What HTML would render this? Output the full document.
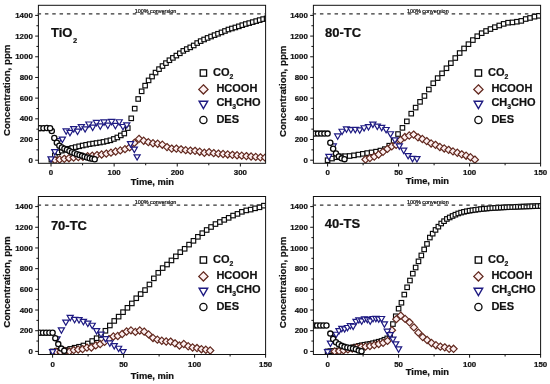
<!DOCTYPE html>
<html><head><meta charset="utf-8"><style>
html,body{margin:0;padding:0;background:#fff;}
svg{display:block;filter:blur(0.3px);}
text{font-family:"Liberation Sans", sans-serif;fill:#111;stroke:#111;stroke-width:0.22px;}
</style></head><body>
<svg width="550" height="384" viewBox="0 0 550 384">
<rect width="550" height="384" fill="#fff"/>
<clipPath id="cp0"><rect x="38.4" y="5.3" width="227.2" height="158"/></clipPath><g clip-path="url(#cp0)">
<rect x="49.15" y="157.45" width="4.5" height="4.5" fill="#fff" stroke="#0a0a0a" stroke-width="1.15"/>
<rect x="52.62" y="153.13" width="4.5" height="4.5" fill="#fff" stroke="#0a0a0a" stroke-width="1.15"/>
<rect x="56.09" y="150.11" width="4.5" height="4.5" fill="#fff" stroke="#0a0a0a" stroke-width="1.15"/>
<rect x="59.56" y="148.41" width="4.5" height="4.5" fill="#fff" stroke="#0a0a0a" stroke-width="1.15"/>
<rect x="63.04" y="147.37" width="4.5" height="4.5" fill="#fff" stroke="#0a0a0a" stroke-width="1.15"/>
<rect x="66.51" y="146.53" width="4.5" height="4.5" fill="#fff" stroke="#0a0a0a" stroke-width="1.15"/>
<rect x="69.98" y="145.7" width="4.5" height="4.5" fill="#fff" stroke="#0a0a0a" stroke-width="1.15"/>
<rect x="73.45" y="144.87" width="4.5" height="4.5" fill="#fff" stroke="#0a0a0a" stroke-width="1.15"/>
<rect x="76.92" y="144.04" width="4.5" height="4.5" fill="#fff" stroke="#0a0a0a" stroke-width="1.15"/>
<rect x="80.39" y="143.27" width="4.5" height="4.5" fill="#fff" stroke="#0a0a0a" stroke-width="1.15"/>
<rect x="83.86" y="142.56" width="4.5" height="4.5" fill="#fff" stroke="#0a0a0a" stroke-width="1.15"/>
<rect x="87.33" y="141.86" width="4.5" height="4.5" fill="#fff" stroke="#0a0a0a" stroke-width="1.15"/>
<rect x="90.8" y="141.33" width="4.5" height="4.5" fill="#fff" stroke="#0a0a0a" stroke-width="1.15"/>
<rect x="94.28" y="140.8" width="4.5" height="4.5" fill="#fff" stroke="#0a0a0a" stroke-width="1.15"/>
<rect x="97.75" y="140.26" width="4.5" height="4.5" fill="#fff" stroke="#0a0a0a" stroke-width="1.15"/>
<rect x="101.22" y="139.66" width="4.5" height="4.5" fill="#fff" stroke="#0a0a0a" stroke-width="1.15"/>
<rect x="104.69" y="138.86" width="4.5" height="4.5" fill="#fff" stroke="#0a0a0a" stroke-width="1.15"/>
<rect x="108.16" y="138.06" width="4.5" height="4.5" fill="#fff" stroke="#0a0a0a" stroke-width="1.15"/>
<rect x="111.63" y="136.7" width="4.5" height="4.5" fill="#fff" stroke="#0a0a0a" stroke-width="1.15"/>
<rect x="115.1" y="135.22" width="4.5" height="4.5" fill="#fff" stroke="#0a0a0a" stroke-width="1.15"/>
<rect x="118.57" y="133.16" width="4.5" height="4.5" fill="#fff" stroke="#0a0a0a" stroke-width="1.15"/>
<rect x="122.04" y="131.27" width="4.5" height="4.5" fill="#fff" stroke="#0a0a0a" stroke-width="1.15"/>
<rect x="125.52" y="125.85" width="4.5" height="4.5" fill="#fff" stroke="#0a0a0a" stroke-width="1.15"/>
<rect x="128.99" y="116.09" width="4.5" height="4.5" fill="#fff" stroke="#0a0a0a" stroke-width="1.15"/>
<rect x="132.46" y="106.37" width="4.5" height="4.5" fill="#fff" stroke="#0a0a0a" stroke-width="1.15"/>
<rect x="135.93" y="96.73" width="4.5" height="4.5" fill="#fff" stroke="#0a0a0a" stroke-width="1.15"/>
<rect x="139.4" y="89.07" width="4.5" height="4.5" fill="#fff" stroke="#0a0a0a" stroke-width="1.15"/>
<rect x="142.87" y="83.38" width="4.5" height="4.5" fill="#fff" stroke="#0a0a0a" stroke-width="1.15"/>
<rect x="146.34" y="78.13" width="4.5" height="4.5" fill="#fff" stroke="#0a0a0a" stroke-width="1.15"/>
<rect x="149.81" y="74.29" width="4.5" height="4.5" fill="#fff" stroke="#0a0a0a" stroke-width="1.15"/>
<rect x="153.28" y="70.33" width="4.5" height="4.5" fill="#fff" stroke="#0a0a0a" stroke-width="1.15"/>
<rect x="156.76" y="66.89" width="4.5" height="4.5" fill="#fff" stroke="#0a0a0a" stroke-width="1.15"/>
<rect x="160.23" y="63.78" width="4.5" height="4.5" fill="#fff" stroke="#0a0a0a" stroke-width="1.15"/>
<rect x="163.7" y="60.87" width="4.5" height="4.5" fill="#fff" stroke="#0a0a0a" stroke-width="1.15"/>
<rect x="167.17" y="57.99" width="4.5" height="4.5" fill="#fff" stroke="#0a0a0a" stroke-width="1.15"/>
<rect x="170.64" y="55.63" width="4.5" height="4.5" fill="#fff" stroke="#0a0a0a" stroke-width="1.15"/>
<rect x="174.11" y="53.34" width="4.5" height="4.5" fill="#fff" stroke="#0a0a0a" stroke-width="1.15"/>
<rect x="177.58" y="51.04" width="4.5" height="4.5" fill="#fff" stroke="#0a0a0a" stroke-width="1.15"/>
<rect x="181.05" y="48.62" width="4.5" height="4.5" fill="#fff" stroke="#0a0a0a" stroke-width="1.15"/>
<rect x="184.52" y="46.84" width="4.5" height="4.5" fill="#fff" stroke="#0a0a0a" stroke-width="1.15"/>
<rect x="188" y="45.12" width="4.5" height="4.5" fill="#fff" stroke="#0a0a0a" stroke-width="1.15"/>
<rect x="191.47" y="43.22" width="4.5" height="4.5" fill="#fff" stroke="#0a0a0a" stroke-width="1.15"/>
<rect x="194.94" y="40.79" width="4.5" height="4.5" fill="#fff" stroke="#0a0a0a" stroke-width="1.15"/>
<rect x="198.41" y="38.87" width="4.5" height="4.5" fill="#fff" stroke="#0a0a0a" stroke-width="1.15"/>
<rect x="201.88" y="37.22" width="4.5" height="4.5" fill="#fff" stroke="#0a0a0a" stroke-width="1.15"/>
<rect x="205.35" y="35.67" width="4.5" height="4.5" fill="#fff" stroke="#0a0a0a" stroke-width="1.15"/>
<rect x="208.82" y="34.27" width="4.5" height="4.5" fill="#fff" stroke="#0a0a0a" stroke-width="1.15"/>
<rect x="212.29" y="32.88" width="4.5" height="4.5" fill="#fff" stroke="#0a0a0a" stroke-width="1.15"/>
<rect x="215.76" y="31.51" width="4.5" height="4.5" fill="#fff" stroke="#0a0a0a" stroke-width="1.15"/>
<rect x="219.24" y="30.14" width="4.5" height="4.5" fill="#fff" stroke="#0a0a0a" stroke-width="1.15"/>
<rect x="222.71" y="28.73" width="4.5" height="4.5" fill="#fff" stroke="#0a0a0a" stroke-width="1.15"/>
<rect x="226.18" y="27.27" width="4.5" height="4.5" fill="#fff" stroke="#0a0a0a" stroke-width="1.15"/>
<rect x="229.65" y="26.24" width="4.5" height="4.5" fill="#fff" stroke="#0a0a0a" stroke-width="1.15"/>
<rect x="233.12" y="25.21" width="4.5" height="4.5" fill="#fff" stroke="#0a0a0a" stroke-width="1.15"/>
<rect x="236.59" y="24.09" width="4.5" height="4.5" fill="#fff" stroke="#0a0a0a" stroke-width="1.15"/>
<rect x="240.06" y="22.92" width="4.5" height="4.5" fill="#fff" stroke="#0a0a0a" stroke-width="1.15"/>
<rect x="243.53" y="21.79" width="4.5" height="4.5" fill="#fff" stroke="#0a0a0a" stroke-width="1.15"/>
<rect x="247" y="20.85" width="4.5" height="4.5" fill="#fff" stroke="#0a0a0a" stroke-width="1.15"/>
<rect x="250.48" y="19.86" width="4.5" height="4.5" fill="#fff" stroke="#0a0a0a" stroke-width="1.15"/>
<rect x="253.95" y="18.85" width="4.5" height="4.5" fill="#fff" stroke="#0a0a0a" stroke-width="1.15"/>
<rect x="257.42" y="17.85" width="4.5" height="4.5" fill="#fff" stroke="#0a0a0a" stroke-width="1.15"/>
<rect x="260.89" y="16.86" width="4.5" height="4.5" fill="#fff" stroke="#0a0a0a" stroke-width="1.15"/>
<rect x="264.36" y="16.1" width="4.5" height="4.5" fill="#fff" stroke="#0a0a0a" stroke-width="1.15"/>
<path d="M54.94 156.52L58.54 160.12L54.94 163.72L51.34 160.12Z" fill="#fdf0f1" stroke="#62291f" stroke-width="1.2"/>
<path d="M59.61 155.89L63.21 159.49L59.61 163.09L56.01 159.49Z" fill="#fdf0f1" stroke="#62291f" stroke-width="1.2"/>
<path d="M64.28 155.23L67.88 158.83L64.28 162.43L60.68 158.83Z" fill="#fdf0f1" stroke="#62291f" stroke-width="1.2"/>
<path d="M68.95 154.58L72.55 158.18L68.95 161.78L65.35 158.18Z" fill="#fdf0f1" stroke="#62291f" stroke-width="1.2"/>
<path d="M73.62 154.02L77.22 157.62L73.62 161.22L70.02 157.62Z" fill="#fdf0f1" stroke="#62291f" stroke-width="1.2"/>
<path d="M78.29 153.52L81.89 157.12L78.29 160.72L74.69 157.12Z" fill="#fdf0f1" stroke="#62291f" stroke-width="1.2"/>
<path d="M82.96 153.1L86.56 156.7L82.96 160.3L79.36 156.7Z" fill="#fdf0f1" stroke="#62291f" stroke-width="1.2"/>
<path d="M87.63 152.68L91.23 156.28L87.63 159.88L84.03 156.28Z" fill="#fdf0f1" stroke="#62291f" stroke-width="1.2"/>
<path d="M92.3 152.12L95.9 155.72L92.3 159.32L88.7 155.72Z" fill="#fdf0f1" stroke="#62291f" stroke-width="1.2"/>
<path d="M96.97 151.51L100.57 155.11L96.97 158.71L93.37 155.11Z" fill="#fdf0f1" stroke="#62291f" stroke-width="1.2"/>
<path d="M101.64 150.89L105.24 154.49L101.64 158.09L98.04 154.49Z" fill="#fdf0f1" stroke="#62291f" stroke-width="1.2"/>
<path d="M106.31 150.02L109.91 153.62L106.31 157.22L102.71 153.62Z" fill="#fdf0f1" stroke="#62291f" stroke-width="1.2"/>
<path d="M110.98 149.07L114.58 152.67L110.98 156.27L107.38 152.67Z" fill="#fdf0f1" stroke="#62291f" stroke-width="1.2"/>
<path d="M115.65 147.94L119.25 151.54L115.65 155.14L112.05 151.54Z" fill="#fdf0f1" stroke="#62291f" stroke-width="1.2"/>
<path d="M120.32 146.8L123.92 150.4L120.32 154L116.72 150.4Z" fill="#fdf0f1" stroke="#62291f" stroke-width="1.2"/>
<path d="M124.99 145.56L128.59 149.16L124.99 152.76L121.39 149.16Z" fill="#fdf0f1" stroke="#62291f" stroke-width="1.2"/>
<path d="M129.66 143.77L133.26 147.37L129.66 150.97L126.06 147.37Z" fill="#fdf0f1" stroke="#62291f" stroke-width="1.2"/>
<path d="M134.33 139.28L137.93 142.88L134.33 146.48L130.73 142.88Z" fill="#fdf0f1" stroke="#62291f" stroke-width="1.2"/>
<path d="M139 135.29L142.6 138.89L139 142.49L135.4 138.89Z" fill="#fdf0f1" stroke="#62291f" stroke-width="1.2"/>
<path d="M143.67 137.13L147.27 140.73L143.67 144.33L140.07 140.73Z" fill="#fdf0f1" stroke="#62291f" stroke-width="1.2"/>
<path d="M148.34 138.55L151.94 142.15L148.34 145.75L144.74 142.15Z" fill="#fdf0f1" stroke="#62291f" stroke-width="1.2"/>
<path d="M153.01 139.68L156.61 143.28L153.01 146.88L149.41 143.28Z" fill="#fdf0f1" stroke="#62291f" stroke-width="1.2"/>
<path d="M157.68 140.19L161.28 143.79L157.68 147.39L154.08 143.79Z" fill="#fdf0f1" stroke="#62291f" stroke-width="1.2"/>
<path d="M162.35 141.09L165.95 144.69L162.35 148.29L158.75 144.69Z" fill="#fdf0f1" stroke="#62291f" stroke-width="1.2"/>
<path d="M167.02 143.52L170.62 147.12L167.02 150.72L163.42 147.12Z" fill="#fdf0f1" stroke="#62291f" stroke-width="1.2"/>
<path d="M171.69 145.01L175.29 148.61L171.69 152.21L168.09 148.61Z" fill="#fdf0f1" stroke="#62291f" stroke-width="1.2"/>
<path d="M176.36 145.04L179.96 148.64L176.36 152.24L172.76 148.64Z" fill="#fdf0f1" stroke="#62291f" stroke-width="1.2"/>
<path d="M181.03 145.74L184.63 149.34L181.03 152.94L177.43 149.34Z" fill="#fdf0f1" stroke="#62291f" stroke-width="1.2"/>
<path d="M185.7 146.55L189.3 150.15L185.7 153.75L182.1 150.15Z" fill="#fdf0f1" stroke="#62291f" stroke-width="1.2"/>
<path d="M190.37 147.04L193.97 150.64L190.37 154.24L186.77 150.64Z" fill="#fdf0f1" stroke="#62291f" stroke-width="1.2"/>
<path d="M195.04 147.26L198.64 150.86L195.04 154.46L191.44 150.86Z" fill="#fdf0f1" stroke="#62291f" stroke-width="1.2"/>
<path d="M199.71 148.08L203.31 151.68L199.71 155.28L196.11 151.68Z" fill="#fdf0f1" stroke="#62291f" stroke-width="1.2"/>
<path d="M204.38 149.12L207.98 152.72L204.38 156.32L200.78 152.72Z" fill="#fdf0f1" stroke="#62291f" stroke-width="1.2"/>
<path d="M209.05 148.54L212.65 152.14L209.05 155.74L205.45 152.14Z" fill="#fdf0f1" stroke="#62291f" stroke-width="1.2"/>
<path d="M213.72 149.53L217.32 153.13L213.72 156.73L210.12 153.13Z" fill="#fdf0f1" stroke="#62291f" stroke-width="1.2"/>
<path d="M218.39 150.04L221.99 153.64L218.39 157.24L214.79 153.64Z" fill="#fdf0f1" stroke="#62291f" stroke-width="1.2"/>
<path d="M223.06 150.43L226.66 154.03L223.06 157.63L219.46 154.03Z" fill="#fdf0f1" stroke="#62291f" stroke-width="1.2"/>
<path d="M227.73 150.84L231.33 154.44L227.73 158.04L224.13 154.44Z" fill="#fdf0f1" stroke="#62291f" stroke-width="1.2"/>
<path d="M232.4 151.25L236 154.85L232.4 158.45L228.8 154.85Z" fill="#fdf0f1" stroke="#62291f" stroke-width="1.2"/>
<path d="M237.07 151.66L240.67 155.26L237.07 158.86L233.47 155.26Z" fill="#fdf0f1" stroke="#62291f" stroke-width="1.2"/>
<path d="M241.74 152.07L245.34 155.67L241.74 159.27L238.14 155.67Z" fill="#fdf0f1" stroke="#62291f" stroke-width="1.2"/>
<path d="M246.41 152.48L250.01 156.08L246.41 159.68L242.81 156.08Z" fill="#fdf0f1" stroke="#62291f" stroke-width="1.2"/>
<path d="M251.08 152.9L254.68 156.5L251.08 160.1L247.48 156.5Z" fill="#fdf0f1" stroke="#62291f" stroke-width="1.2"/>
<path d="M255.75 153.32L259.35 156.92L255.75 160.52L252.15 156.92Z" fill="#fdf0f1" stroke="#62291f" stroke-width="1.2"/>
<path d="M260.42 153.73L264.02 157.33L260.42 160.93L256.82 157.33Z" fill="#fdf0f1" stroke="#62291f" stroke-width="1.2"/>
<path d="M265.1 154.03L268.7 157.63L265.1 161.23L261.5 157.63Z" fill="#fdf0f1" stroke="#62291f" stroke-width="1.2"/>
<path d="M47.95 156.84L54.1 156.84L51.02 162.17Z" fill="#fff" stroke="#1e1a82" stroke-width="1.2"/>
<path d="M51.73 149.61L57.88 149.61L54.81 154.94Z" fill="#fff" stroke="#1e1a82" stroke-width="1.2"/>
<path d="M55.52 138.59L61.67 138.59L58.6 143.91Z" fill="#fff" stroke="#1e1a82" stroke-width="1.2"/>
<path d="M59.31 137.17L65.46 137.17L62.38 142.5Z" fill="#fff" stroke="#1e1a82" stroke-width="1.2"/>
<path d="M63.09 128.95L69.24 128.95L66.17 134.28Z" fill="#fff" stroke="#1e1a82" stroke-width="1.2"/>
<path d="M66.88 130.37L73.03 130.37L69.96 135.7Z" fill="#fff" stroke="#1e1a82" stroke-width="1.2"/>
<path d="M70.67 126.64L76.82 126.64L73.74 131.96Z" fill="#fff" stroke="#1e1a82" stroke-width="1.2"/>
<path d="M74.45 129.21L80.6 129.21L77.53 134.54Z" fill="#fff" stroke="#1e1a82" stroke-width="1.2"/>
<path d="M78.24 124.55L84.39 124.55L81.32 129.88Z" fill="#fff" stroke="#1e1a82" stroke-width="1.2"/>
<path d="M82.03 126.8L88.18 126.8L85.1 132.13Z" fill="#fff" stroke="#1e1a82" stroke-width="1.2"/>
<path d="M85.81 122.02L91.96 122.02L88.89 127.35Z" fill="#fff" stroke="#1e1a82" stroke-width="1.2"/>
<path d="M89.6 125.16L95.75 125.16L92.68 130.48Z" fill="#fff" stroke="#1e1a82" stroke-width="1.2"/>
<path d="M93.39 120.47L99.54 120.47L96.46 125.8Z" fill="#fff" stroke="#1e1a82" stroke-width="1.2"/>
<path d="M97.17 123.96L103.32 123.96L100.25 129.29Z" fill="#fff" stroke="#1e1a82" stroke-width="1.2"/>
<path d="M100.96 119.95L107.11 119.95L104.04 125.27Z" fill="#fff" stroke="#1e1a82" stroke-width="1.2"/>
<path d="M104.75 123.21L110.9 123.21L107.82 128.53Z" fill="#fff" stroke="#1e1a82" stroke-width="1.2"/>
<path d="M108.53 119.45L114.68 119.45L111.61 124.78Z" fill="#fff" stroke="#1e1a82" stroke-width="1.2"/>
<path d="M112.32 123.45L118.47 123.45L115.4 128.77Z" fill="#fff" stroke="#1e1a82" stroke-width="1.2"/>
<path d="M116.11 119.76L122.26 119.76L119.18 125.09Z" fill="#fff" stroke="#1e1a82" stroke-width="1.2"/>
<path d="M119.89 124.52L126.04 124.52L122.97 129.85Z" fill="#fff" stroke="#1e1a82" stroke-width="1.2"/>
<path d="M123.68 122.83L129.83 122.83L126.76 128.16Z" fill="#fff" stroke="#1e1a82" stroke-width="1.2"/>
<path d="M127.47 141.64L133.62 141.64L130.54 146.97Z" fill="#fff" stroke="#1e1a82" stroke-width="1.2"/>
<path d="M131.25 147.16L137.4 147.16L134.33 152.49Z" fill="#fff" stroke="#1e1a82" stroke-width="1.2"/>
<path d="M134.03 154.8L140.18 154.8L137.11 160.13Z" fill="#fff" stroke="#1e1a82" stroke-width="1.2"/>
<circle cx="51.78" cy="131.05" r="2.6" fill="#fff" stroke="#0a0a0a" stroke-width="1.3"/>
<circle cx="54.3" cy="138" r="2.6" fill="#fff" stroke="#0a0a0a" stroke-width="1.3"/>
<circle cx="56.83" cy="142.72" r="2.6" fill="#fff" stroke="#0a0a0a" stroke-width="1.3"/>
<circle cx="59.35" cy="145.76" r="2.6" fill="#fff" stroke="#0a0a0a" stroke-width="1.3"/>
<circle cx="61.88" cy="147.56" r="2.6" fill="#fff" stroke="#0a0a0a" stroke-width="1.3"/>
<circle cx="64.4" cy="148.67" r="2.6" fill="#fff" stroke="#0a0a0a" stroke-width="1.3"/>
<circle cx="66.93" cy="149.76" r="2.6" fill="#fff" stroke="#0a0a0a" stroke-width="1.3"/>
<circle cx="69.45" cy="151.05" r="2.6" fill="#fff" stroke="#0a0a0a" stroke-width="1.3"/>
<circle cx="71.98" cy="152.23" r="2.6" fill="#fff" stroke="#0a0a0a" stroke-width="1.3"/>
<circle cx="74.5" cy="153.28" r="2.6" fill="#fff" stroke="#0a0a0a" stroke-width="1.3"/>
<circle cx="77.02" cy="154.21" r="2.6" fill="#fff" stroke="#0a0a0a" stroke-width="1.3"/>
<circle cx="79.55" cy="155.03" r="2.6" fill="#fff" stroke="#0a0a0a" stroke-width="1.3"/>
<circle cx="82.07" cy="155.86" r="2.6" fill="#fff" stroke="#0a0a0a" stroke-width="1.3"/>
<circle cx="84.6" cy="156.7" r="2.6" fill="#fff" stroke="#0a0a0a" stroke-width="1.3"/>
<circle cx="87.12" cy="157.56" r="2.6" fill="#fff" stroke="#0a0a0a" stroke-width="1.3"/>
<circle cx="89.65" cy="158.23" r="2.6" fill="#fff" stroke="#0a0a0a" stroke-width="1.3"/>
<circle cx="92.17" cy="158.76" r="2.6" fill="#fff" stroke="#0a0a0a" stroke-width="1.3"/>
<circle cx="94.7" cy="159.27" r="2.6" fill="#fff" stroke="#0a0a0a" stroke-width="1.3"/>
<circle cx="39.98" cy="128.14" r="2.6" fill="#fff" stroke="#0a0a0a" stroke-width="1.3"/>
<circle cx="43.45" cy="128.14" r="2.6" fill="#fff" stroke="#0a0a0a" stroke-width="1.3"/>
<circle cx="46.92" cy="127.93" r="2.6" fill="#fff" stroke="#0a0a0a" stroke-width="1.3"/>
<circle cx="50.08" cy="128.14" r="2.6" fill="#fff" stroke="#0a0a0a" stroke-width="1.3"/>
</g>
<rect x="38.4" y="5.3" width="227.2" height="158" fill="none" stroke="#111" stroke-width="1"/>
<line x1="37.6" y1="13.9" x2="265.6" y2="13.9" stroke="#333" stroke-width="1.1" stroke-dasharray="3.5 3.82"/>
<text x="155.5" y="12.6" font-size="5.45" text-anchor="middle" fill="#222" stroke="none">100% conversion</text>
<line x1="35.2" y1="160.2" x2="38.4" y2="160.2" stroke="#111" stroke-width="1"/>
<text x="32.8" y="162.8" font-size="7.9" font-weight="bold" text-anchor="end">0</text>
<line x1="35.2" y1="139.51" x2="38.4" y2="139.51" stroke="#111" stroke-width="1"/>
<text x="32.8" y="142.11" font-size="7.9" font-weight="bold" text-anchor="end">200</text>
<line x1="35.2" y1="118.83" x2="38.4" y2="118.83" stroke="#111" stroke-width="1"/>
<text x="32.8" y="121.43" font-size="7.9" font-weight="bold" text-anchor="end">400</text>
<line x1="35.2" y1="98.14" x2="38.4" y2="98.14" stroke="#111" stroke-width="1"/>
<text x="32.8" y="100.74" font-size="7.9" font-weight="bold" text-anchor="end">600</text>
<line x1="35.2" y1="77.46" x2="38.4" y2="77.46" stroke="#111" stroke-width="1"/>
<text x="32.8" y="80.06" font-size="7.9" font-weight="bold" text-anchor="end">800</text>
<line x1="35.2" y1="56.77" x2="38.4" y2="56.77" stroke="#111" stroke-width="1"/>
<text x="32.8" y="59.37" font-size="7.9" font-weight="bold" text-anchor="end">1000</text>
<line x1="35.2" y1="36.08" x2="38.4" y2="36.08" stroke="#111" stroke-width="1"/>
<text x="32.8" y="38.68" font-size="7.9" font-weight="bold" text-anchor="end">1200</text>
<line x1="35.2" y1="15.4" x2="38.4" y2="15.4" stroke="#111" stroke-width="1"/>
<text x="32.8" y="18" font-size="7.9" font-weight="bold" text-anchor="end">1400</text>
<line x1="36.4" y1="149.86" x2="38.4" y2="149.86" stroke="#111" stroke-width="1"/>
<line x1="36.4" y1="129.17" x2="38.4" y2="129.17" stroke="#111" stroke-width="1"/>
<line x1="36.4" y1="108.48" x2="38.4" y2="108.48" stroke="#111" stroke-width="1"/>
<line x1="36.4" y1="87.8" x2="38.4" y2="87.8" stroke="#111" stroke-width="1"/>
<line x1="36.4" y1="67.11" x2="38.4" y2="67.11" stroke="#111" stroke-width="1"/>
<line x1="36.4" y1="46.43" x2="38.4" y2="46.43" stroke="#111" stroke-width="1"/>
<line x1="36.4" y1="25.74" x2="38.4" y2="25.74" stroke="#111" stroke-width="1"/>
<line x1="51.02" y1="163.3" x2="51.02" y2="166.5" stroke="#111" stroke-width="1"/>
<text x="51.02" y="175.3" font-size="7.9" font-weight="bold" text-anchor="middle">0</text>
<line x1="114.13" y1="163.3" x2="114.13" y2="166.5" stroke="#111" stroke-width="1"/>
<text x="114.13" y="175.3" font-size="7.9" font-weight="bold" text-anchor="middle">100</text>
<line x1="177.24" y1="163.3" x2="177.24" y2="166.5" stroke="#111" stroke-width="1"/>
<text x="177.24" y="175.3" font-size="7.9" font-weight="bold" text-anchor="middle">200</text>
<line x1="240.36" y1="163.3" x2="240.36" y2="166.5" stroke="#111" stroke-width="1"/>
<text x="240.36" y="175.3" font-size="7.9" font-weight="bold" text-anchor="middle">300</text>
<line x1="82.58" y1="163.3" x2="82.58" y2="165.3" stroke="#111" stroke-width="1"/>
<line x1="145.69" y1="163.3" x2="145.69" y2="165.3" stroke="#111" stroke-width="1"/>
<line x1="208.8" y1="163.3" x2="208.8" y2="165.3" stroke="#111" stroke-width="1"/>
<text x="152.4" y="184.7" font-size="9.3" font-weight="bold" text-anchor="middle">Time, min</text>
<text transform="translate(9.9,90.3) rotate(-90)" font-size="9.7" font-weight="bold" text-anchor="middle">Concentration, ppm</text>
<text x="51" y="36.6" font-size="13" font-weight="bold">TiO<tspan font-size="7.5" dx="0.5" dy="6">2</tspan></text>
<rect x="200.2" y="69.8" width="6.4" height="6.4" fill="#fff" stroke="#0a0a0a" stroke-width="1.3"/>
<text x="213" y="76" font-size="11" font-weight="bold">CO<tspan font-size="6.8" dy="3.0">2</tspan></text>
<path d="M203.4 84.8L208 89.4L203.4 94L198.8 89.4Z" fill="#fdf0f1" stroke="#62291f" stroke-width="1.3"/>
<text x="216.4" y="92" font-size="11" font-weight="bold">HCOOH</text>
<path d="M199.07 101.2L207.73 101.2L203.4 108.7Z" fill="#fff" stroke="#1e1a82" stroke-width="1.35"/>
<text x="216.4" y="106.1" font-size="11" font-weight="bold">CH<tspan font-size="6.8" dy="3.0">3</tspan><tspan dy="-3.0">CHO</tspan></text>
<circle cx="203.4" cy="120" r="3.6" fill="#fff" stroke="#0a0a0a" stroke-width="1.3"/>
<text x="216.4" y="122.8" font-size="11" font-weight="bold">DES</text>
<clipPath id="cp1"><rect x="313.4" y="5.3" width="227.2" height="158"/></clipPath><g clip-path="url(#cp1)">
<rect x="325.35" y="157.95" width="4.5" height="4.5" fill="#fff" stroke="#0a0a0a" stroke-width="1.15"/>
<rect x="329.75" y="156.3" width="4.5" height="4.5" fill="#fff" stroke="#0a0a0a" stroke-width="1.15"/>
<rect x="334.15" y="154.97" width="4.5" height="4.5" fill="#fff" stroke="#0a0a0a" stroke-width="1.15"/>
<rect x="338.56" y="154.07" width="4.5" height="4.5" fill="#fff" stroke="#0a0a0a" stroke-width="1.15"/>
<rect x="342.96" y="153.94" width="4.5" height="4.5" fill="#fff" stroke="#0a0a0a" stroke-width="1.15"/>
<rect x="347.36" y="153.74" width="4.5" height="4.5" fill="#fff" stroke="#0a0a0a" stroke-width="1.15"/>
<rect x="351.76" y="153.09" width="4.5" height="4.5" fill="#fff" stroke="#0a0a0a" stroke-width="1.15"/>
<rect x="356.16" y="152.33" width="4.5" height="4.5" fill="#fff" stroke="#0a0a0a" stroke-width="1.15"/>
<rect x="360.57" y="151.59" width="4.5" height="4.5" fill="#fff" stroke="#0a0a0a" stroke-width="1.15"/>
<rect x="364.97" y="150.84" width="4.5" height="4.5" fill="#fff" stroke="#0a0a0a" stroke-width="1.15"/>
<rect x="369.37" y="150.17" width="4.5" height="4.5" fill="#fff" stroke="#0a0a0a" stroke-width="1.15"/>
<rect x="373.77" y="149.39" width="4.5" height="4.5" fill="#fff" stroke="#0a0a0a" stroke-width="1.15"/>
<rect x="378.17" y="148.32" width="4.5" height="4.5" fill="#fff" stroke="#0a0a0a" stroke-width="1.15"/>
<rect x="382.58" y="146.88" width="4.5" height="4.5" fill="#fff" stroke="#0a0a0a" stroke-width="1.15"/>
<rect x="386.98" y="143.44" width="4.5" height="4.5" fill="#fff" stroke="#0a0a0a" stroke-width="1.15"/>
<rect x="391.38" y="138.39" width="4.5" height="4.5" fill="#fff" stroke="#0a0a0a" stroke-width="1.15"/>
<rect x="395.78" y="131.79" width="4.5" height="4.5" fill="#fff" stroke="#0a0a0a" stroke-width="1.15"/>
<rect x="400.18" y="125.6" width="4.5" height="4.5" fill="#fff" stroke="#0a0a0a" stroke-width="1.15"/>
<rect x="404.59" y="119.11" width="4.5" height="4.5" fill="#fff" stroke="#0a0a0a" stroke-width="1.15"/>
<rect x="408.99" y="111.41" width="4.5" height="4.5" fill="#fff" stroke="#0a0a0a" stroke-width="1.15"/>
<rect x="413.39" y="105.35" width="4.5" height="4.5" fill="#fff" stroke="#0a0a0a" stroke-width="1.15"/>
<rect x="417.79" y="99.59" width="4.5" height="4.5" fill="#fff" stroke="#0a0a0a" stroke-width="1.15"/>
<rect x="422.19" y="93.72" width="4.5" height="4.5" fill="#fff" stroke="#0a0a0a" stroke-width="1.15"/>
<rect x="426.6" y="87.25" width="4.5" height="4.5" fill="#fff" stroke="#0a0a0a" stroke-width="1.15"/>
<rect x="431" y="81" width="4.5" height="4.5" fill="#fff" stroke="#0a0a0a" stroke-width="1.15"/>
<rect x="435.4" y="75.87" width="4.5" height="4.5" fill="#fff" stroke="#0a0a0a" stroke-width="1.15"/>
<rect x="439.8" y="71.08" width="4.5" height="4.5" fill="#fff" stroke="#0a0a0a" stroke-width="1.15"/>
<rect x="444.2" y="66.01" width="4.5" height="4.5" fill="#fff" stroke="#0a0a0a" stroke-width="1.15"/>
<rect x="448.61" y="60.91" width="4.5" height="4.5" fill="#fff" stroke="#0a0a0a" stroke-width="1.15"/>
<rect x="453.01" y="55.78" width="4.5" height="4.5" fill="#fff" stroke="#0a0a0a" stroke-width="1.15"/>
<rect x="457.41" y="50.79" width="4.5" height="4.5" fill="#fff" stroke="#0a0a0a" stroke-width="1.15"/>
<rect x="461.81" y="46.21" width="4.5" height="4.5" fill="#fff" stroke="#0a0a0a" stroke-width="1.15"/>
<rect x="466.21" y="41.94" width="4.5" height="4.5" fill="#fff" stroke="#0a0a0a" stroke-width="1.15"/>
<rect x="470.62" y="37.83" width="4.5" height="4.5" fill="#fff" stroke="#0a0a0a" stroke-width="1.15"/>
<rect x="475.02" y="33.98" width="4.5" height="4.5" fill="#fff" stroke="#0a0a0a" stroke-width="1.15"/>
<rect x="479.42" y="30.94" width="4.5" height="4.5" fill="#fff" stroke="#0a0a0a" stroke-width="1.15"/>
<rect x="483.82" y="28.75" width="4.5" height="4.5" fill="#fff" stroke="#0a0a0a" stroke-width="1.15"/>
<rect x="488.22" y="26.79" width="4.5" height="4.5" fill="#fff" stroke="#0a0a0a" stroke-width="1.15"/>
<rect x="492.63" y="24.94" width="4.5" height="4.5" fill="#fff" stroke="#0a0a0a" stroke-width="1.15"/>
<rect x="497.03" y="23.24" width="4.5" height="4.5" fill="#fff" stroke="#0a0a0a" stroke-width="1.15"/>
<rect x="501.43" y="21.63" width="4.5" height="4.5" fill="#fff" stroke="#0a0a0a" stroke-width="1.15"/>
<rect x="505.83" y="20.45" width="4.5" height="4.5" fill="#fff" stroke="#0a0a0a" stroke-width="1.15"/>
<rect x="510.23" y="20.15" width="4.5" height="4.5" fill="#fff" stroke="#0a0a0a" stroke-width="1.15"/>
<rect x="514.64" y="19.47" width="4.5" height="4.5" fill="#fff" stroke="#0a0a0a" stroke-width="1.15"/>
<rect x="519.04" y="18.64" width="4.5" height="4.5" fill="#fff" stroke="#0a0a0a" stroke-width="1.15"/>
<rect x="523.44" y="16.76" width="4.5" height="4.5" fill="#fff" stroke="#0a0a0a" stroke-width="1.15"/>
<rect x="527.84" y="15.7" width="4.5" height="4.5" fill="#fff" stroke="#0a0a0a" stroke-width="1.15"/>
<rect x="532.24" y="14.43" width="4.5" height="4.5" fill="#fff" stroke="#0a0a0a" stroke-width="1.15"/>
<rect x="536.65" y="13.57" width="4.5" height="4.5" fill="#fff" stroke="#0a0a0a" stroke-width="1.15"/>
<path d="M365.51 155.85L369.11 159.45L365.51 163.05L361.91 159.45Z" fill="#fdf0f1" stroke="#62291f" stroke-width="1.2"/>
<path d="M369.89 154.46L373.49 158.06L369.89 161.66L366.29 158.06Z" fill="#fdf0f1" stroke="#62291f" stroke-width="1.2"/>
<path d="M374.26 152.97L377.86 156.57L374.26 160.17L370.66 156.57Z" fill="#fdf0f1" stroke="#62291f" stroke-width="1.2"/>
<path d="M378.63 150.9L382.23 154.5L378.63 158.1L375.03 154.5Z" fill="#fdf0f1" stroke="#62291f" stroke-width="1.2"/>
<path d="M383.01 148.25L386.61 151.85L383.01 155.45L379.41 151.85Z" fill="#fdf0f1" stroke="#62291f" stroke-width="1.2"/>
<path d="M387.38 145.29L390.98 148.89L387.38 152.49L383.78 148.89Z" fill="#fdf0f1" stroke="#62291f" stroke-width="1.2"/>
<path d="M391.76 142.61L395.36 146.21L391.76 149.81L388.16 146.21Z" fill="#fdf0f1" stroke="#62291f" stroke-width="1.2"/>
<path d="M396.13 141.3L399.73 144.9L396.13 148.5L392.53 144.9Z" fill="#fdf0f1" stroke="#62291f" stroke-width="1.2"/>
<path d="M400.5 136.44L404.1 140.04L400.5 143.64L396.9 140.04Z" fill="#fdf0f1" stroke="#62291f" stroke-width="1.2"/>
<path d="M404.88 133.46L408.48 137.06L404.88 140.66L401.28 137.06Z" fill="#fdf0f1" stroke="#62291f" stroke-width="1.2"/>
<path d="M409.25 131.95L412.85 135.55L409.25 139.15L405.65 135.55Z" fill="#fdf0f1" stroke="#62291f" stroke-width="1.2"/>
<path d="M413.62 131L417.22 134.6L413.62 138.2L410.02 134.6Z" fill="#fdf0f1" stroke="#62291f" stroke-width="1.2"/>
<path d="M418 133.76L421.6 137.36L418 140.96L414.4 137.36Z" fill="#fdf0f1" stroke="#62291f" stroke-width="1.2"/>
<path d="M422.37 135.41L425.97 139.01L422.37 142.61L418.77 139.01Z" fill="#fdf0f1" stroke="#62291f" stroke-width="1.2"/>
<path d="M426.74 137.54L430.34 141.14L426.74 144.74L423.14 141.14Z" fill="#fdf0f1" stroke="#62291f" stroke-width="1.2"/>
<path d="M431.12 139.83L434.72 143.43L431.12 147.03L427.52 143.43Z" fill="#fdf0f1" stroke="#62291f" stroke-width="1.2"/>
<path d="M435.49 141.23L439.09 144.83L435.49 148.43L431.89 144.83Z" fill="#fdf0f1" stroke="#62291f" stroke-width="1.2"/>
<path d="M439.87 143.38L443.47 146.98L439.87 150.58L436.27 146.98Z" fill="#fdf0f1" stroke="#62291f" stroke-width="1.2"/>
<path d="M444.24 144.84L447.84 148.44L444.24 152.04L440.64 148.44Z" fill="#fdf0f1" stroke="#62291f" stroke-width="1.2"/>
<path d="M448.61 146.27L452.21 149.87L448.61 153.47L445.01 149.87Z" fill="#fdf0f1" stroke="#62291f" stroke-width="1.2"/>
<path d="M452.99 147.82L456.59 151.42L452.99 155.02L449.39 151.42Z" fill="#fdf0f1" stroke="#62291f" stroke-width="1.2"/>
<path d="M457.36 149.2L460.96 152.8L457.36 156.4L453.76 152.8Z" fill="#fdf0f1" stroke="#62291f" stroke-width="1.2"/>
<path d="M461.73 150.74L465.33 154.34L461.73 157.94L458.13 154.34Z" fill="#fdf0f1" stroke="#62291f" stroke-width="1.2"/>
<path d="M466.11 152.08L469.71 155.68L466.11 159.28L462.51 155.68Z" fill="#fdf0f1" stroke="#62291f" stroke-width="1.2"/>
<path d="M470.48 153.65L474.08 157.25L470.48 160.85L466.88 157.25Z" fill="#fdf0f1" stroke="#62291f" stroke-width="1.2"/>
<path d="M474.85 156.03L478.45 159.63L474.85 163.23L471.25 159.63Z" fill="#fdf0f1" stroke="#62291f" stroke-width="1.2"/>
<path d="M325.8 154.39L331.95 154.39L328.88 159.71Z" fill="#fff" stroke="#1e1a82" stroke-width="1.2"/>
<path d="M330.21 143.94L336.35 143.94L333.28 149.27Z" fill="#fff" stroke="#1e1a82" stroke-width="1.2"/>
<path d="M334.61 133.97L340.76 133.97L337.68 139.29Z" fill="#fff" stroke="#1e1a82" stroke-width="1.2"/>
<path d="M339.01 129.25L345.16 129.25L342.08 134.58Z" fill="#fff" stroke="#1e1a82" stroke-width="1.2"/>
<path d="M343.41 126.94L349.56 126.94L346.49 132.26Z" fill="#fff" stroke="#1e1a82" stroke-width="1.2"/>
<path d="M347.81 127.57L353.96 127.57L350.89 132.89Z" fill="#fff" stroke="#1e1a82" stroke-width="1.2"/>
<path d="M352.22 127.4L358.36 127.4L355.29 132.73Z" fill="#fff" stroke="#1e1a82" stroke-width="1.2"/>
<path d="M356.62 127.91L362.77 127.91L359.69 133.24Z" fill="#fff" stroke="#1e1a82" stroke-width="1.2"/>
<path d="M361.02 125.73L367.17 125.73L364.09 131.06Z" fill="#fff" stroke="#1e1a82" stroke-width="1.2"/>
<path d="M365.42 124.63L371.57 124.63L368.5 129.96Z" fill="#fff" stroke="#1e1a82" stroke-width="1.2"/>
<path d="M369.82 122.13L375.97 122.13L372.9 127.45Z" fill="#fff" stroke="#1e1a82" stroke-width="1.2"/>
<path d="M374.23 124.18L380.37 124.18L377.3 129.5Z" fill="#fff" stroke="#1e1a82" stroke-width="1.2"/>
<path d="M378.63 125.4L384.78 125.4L381.7 130.73Z" fill="#fff" stroke="#1e1a82" stroke-width="1.2"/>
<path d="M383.03 127.51L389.18 127.51L386.1 132.83Z" fill="#fff" stroke="#1e1a82" stroke-width="1.2"/>
<path d="M387.43 131.76L393.58 131.76L390.51 137.09Z" fill="#fff" stroke="#1e1a82" stroke-width="1.2"/>
<path d="M391.83 137.82L397.98 137.82L394.91 143.15Z" fill="#fff" stroke="#1e1a82" stroke-width="1.2"/>
<path d="M396.24 143.92L402.38 143.92L399.31 149.24Z" fill="#fff" stroke="#1e1a82" stroke-width="1.2"/>
<path d="M400.64 148.12L406.79 148.12L403.71 153.45Z" fill="#fff" stroke="#1e1a82" stroke-width="1.2"/>
<path d="M405.04 153.56L411.19 153.56L408.11 158.88Z" fill="#fff" stroke="#1e1a82" stroke-width="1.2"/>
<path d="M409.44 156.42L415.59 156.42L412.52 161.74Z" fill="#fff" stroke="#1e1a82" stroke-width="1.2"/>
<path d="M413.84 156.64L419.99 156.64L416.92 161.97Z" fill="#fff" stroke="#1e1a82" stroke-width="1.2"/>
<circle cx="330.3" cy="142.72" r="2.6" fill="#fff" stroke="#0a0a0a" stroke-width="1.3"/>
<circle cx="333.14" cy="148.71" r="2.6" fill="#fff" stroke="#0a0a0a" stroke-width="1.3"/>
<circle cx="335.98" cy="153.5" r="2.6" fill="#fff" stroke="#0a0a0a" stroke-width="1.3"/>
<circle cx="338.82" cy="156.48" r="2.6" fill="#fff" stroke="#0a0a0a" stroke-width="1.3"/>
<circle cx="341.66" cy="158.35" r="2.6" fill="#fff" stroke="#0a0a0a" stroke-width="1.3"/>
<circle cx="344.5" cy="159.13" r="2.6" fill="#fff" stroke="#0a0a0a" stroke-width="1.3"/>
<circle cx="314.82" cy="133.62" r="2.6" fill="#fff" stroke="#0a0a0a" stroke-width="1.3"/>
<circle cx="318.01" cy="133.62" r="2.6" fill="#fff" stroke="#0a0a0a" stroke-width="1.3"/>
<circle cx="321.21" cy="133.62" r="2.6" fill="#fff" stroke="#0a0a0a" stroke-width="1.3"/>
<circle cx="324.4" cy="133.62" r="2.6" fill="#fff" stroke="#0a0a0a" stroke-width="1.3"/>
<circle cx="327.6" cy="133.62" r="2.6" fill="#fff" stroke="#0a0a0a" stroke-width="1.3"/>
</g>
<rect x="313.4" y="5.3" width="227.2" height="158" fill="none" stroke="#111" stroke-width="1"/>
<line x1="312.6" y1="13.9" x2="540.6" y2="13.9" stroke="#333" stroke-width="1.1" stroke-dasharray="3.5 3.82"/>
<text x="427.8" y="12.6" font-size="5.45" text-anchor="middle" fill="#222" stroke="none">100% conversion</text>
<line x1="310.2" y1="160.2" x2="313.4" y2="160.2" stroke="#111" stroke-width="1"/>
<text x="307.8" y="162.8" font-size="7.9" font-weight="bold" text-anchor="end">0</text>
<line x1="310.2" y1="139.51" x2="313.4" y2="139.51" stroke="#111" stroke-width="1"/>
<text x="307.8" y="142.11" font-size="7.9" font-weight="bold" text-anchor="end">200</text>
<line x1="310.2" y1="118.83" x2="313.4" y2="118.83" stroke="#111" stroke-width="1"/>
<text x="307.8" y="121.43" font-size="7.9" font-weight="bold" text-anchor="end">400</text>
<line x1="310.2" y1="98.14" x2="313.4" y2="98.14" stroke="#111" stroke-width="1"/>
<text x="307.8" y="100.74" font-size="7.9" font-weight="bold" text-anchor="end">600</text>
<line x1="310.2" y1="77.46" x2="313.4" y2="77.46" stroke="#111" stroke-width="1"/>
<text x="307.8" y="80.06" font-size="7.9" font-weight="bold" text-anchor="end">800</text>
<line x1="310.2" y1="56.77" x2="313.4" y2="56.77" stroke="#111" stroke-width="1"/>
<text x="307.8" y="59.37" font-size="7.9" font-weight="bold" text-anchor="end">1000</text>
<line x1="310.2" y1="36.08" x2="313.4" y2="36.08" stroke="#111" stroke-width="1"/>
<text x="307.8" y="38.68" font-size="7.9" font-weight="bold" text-anchor="end">1200</text>
<line x1="310.2" y1="15.4" x2="313.4" y2="15.4" stroke="#111" stroke-width="1"/>
<text x="307.8" y="18" font-size="7.9" font-weight="bold" text-anchor="end">1400</text>
<line x1="311.4" y1="149.86" x2="313.4" y2="149.86" stroke="#111" stroke-width="1"/>
<line x1="311.4" y1="129.17" x2="313.4" y2="129.17" stroke="#111" stroke-width="1"/>
<line x1="311.4" y1="108.48" x2="313.4" y2="108.48" stroke="#111" stroke-width="1"/>
<line x1="311.4" y1="87.8" x2="313.4" y2="87.8" stroke="#111" stroke-width="1"/>
<line x1="311.4" y1="67.11" x2="313.4" y2="67.11" stroke="#111" stroke-width="1"/>
<line x1="311.4" y1="46.43" x2="313.4" y2="46.43" stroke="#111" stroke-width="1"/>
<line x1="311.4" y1="25.74" x2="313.4" y2="25.74" stroke="#111" stroke-width="1"/>
<line x1="327.6" y1="163.3" x2="327.6" y2="166.5" stroke="#111" stroke-width="1"/>
<text x="327.6" y="175.3" font-size="7.9" font-weight="bold" text-anchor="middle">0</text>
<line x1="398.6" y1="163.3" x2="398.6" y2="166.5" stroke="#111" stroke-width="1"/>
<text x="398.6" y="175.3" font-size="7.9" font-weight="bold" text-anchor="middle">50</text>
<line x1="469.6" y1="163.3" x2="469.6" y2="166.5" stroke="#111" stroke-width="1"/>
<text x="469.6" y="175.3" font-size="7.9" font-weight="bold" text-anchor="middle">100</text>
<line x1="540.6" y1="163.3" x2="540.6" y2="166.5" stroke="#111" stroke-width="1"/>
<text x="540.6" y="175.3" font-size="7.9" font-weight="bold" text-anchor="middle">150</text>
<line x1="363.1" y1="163.3" x2="363.1" y2="165.3" stroke="#111" stroke-width="1"/>
<line x1="434.1" y1="163.3" x2="434.1" y2="165.3" stroke="#111" stroke-width="1"/>
<line x1="505.1" y1="163.3" x2="505.1" y2="165.3" stroke="#111" stroke-width="1"/>
<text x="427.4" y="184.2" font-size="9.3" font-weight="bold" text-anchor="middle">Time, min</text>
<text transform="translate(285.9,91.3) rotate(-90)" font-size="9.7" font-weight="bold" text-anchor="middle">Concentration, ppm</text>
<text x="325" y="37.1" font-size="13" font-weight="bold">80-TC</text>
<rect x="475.2" y="69.8" width="6.4" height="6.4" fill="#fff" stroke="#0a0a0a" stroke-width="1.3"/>
<text x="488" y="76" font-size="11" font-weight="bold">CO<tspan font-size="6.8" dy="3.0">2</tspan></text>
<path d="M478.4 84.8L483 89.4L478.4 94L473.8 89.4Z" fill="#fdf0f1" stroke="#62291f" stroke-width="1.3"/>
<text x="491.4" y="92" font-size="11" font-weight="bold">HCOOH</text>
<path d="M474.07 101.2L482.73 101.2L478.4 108.7Z" fill="#fff" stroke="#1e1a82" stroke-width="1.35"/>
<text x="491.4" y="106.1" font-size="11" font-weight="bold">CH<tspan font-size="6.8" dy="3.0">3</tspan><tspan dy="-3.0">CHO</tspan></text>
<circle cx="478.4" cy="120" r="3.6" fill="#fff" stroke="#0a0a0a" stroke-width="1.3"/>
<text x="491.4" y="122.8" font-size="11" font-weight="bold">DES</text>
<clipPath id="cp2"><rect x="38.4" y="196.5" width="227.2" height="158"/></clipPath><g clip-path="url(#cp2)">
<rect x="50.35" y="349.15" width="4.5" height="4.5" fill="#fff" stroke="#0a0a0a" stroke-width="1.15"/>
<rect x="54.75" y="348.47" width="4.5" height="4.5" fill="#fff" stroke="#0a0a0a" stroke-width="1.15"/>
<rect x="59.15" y="348.02" width="4.5" height="4.5" fill="#fff" stroke="#0a0a0a" stroke-width="1.15"/>
<rect x="63.56" y="347.7" width="4.5" height="4.5" fill="#fff" stroke="#0a0a0a" stroke-width="1.15"/>
<rect x="67.96" y="346.64" width="4.5" height="4.5" fill="#fff" stroke="#0a0a0a" stroke-width="1.15"/>
<rect x="72.36" y="345.46" width="4.5" height="4.5" fill="#fff" stroke="#0a0a0a" stroke-width="1.15"/>
<rect x="76.76" y="344.51" width="4.5" height="4.5" fill="#fff" stroke="#0a0a0a" stroke-width="1.15"/>
<rect x="81.16" y="343.25" width="4.5" height="4.5" fill="#fff" stroke="#0a0a0a" stroke-width="1.15"/>
<rect x="85.57" y="341.25" width="4.5" height="4.5" fill="#fff" stroke="#0a0a0a" stroke-width="1.15"/>
<rect x="89.97" y="338.77" width="4.5" height="4.5" fill="#fff" stroke="#0a0a0a" stroke-width="1.15"/>
<rect x="94.37" y="335.96" width="4.5" height="4.5" fill="#fff" stroke="#0a0a0a" stroke-width="1.15"/>
<rect x="98.77" y="332.74" width="4.5" height="4.5" fill="#fff" stroke="#0a0a0a" stroke-width="1.15"/>
<rect x="103.17" y="328.52" width="4.5" height="4.5" fill="#fff" stroke="#0a0a0a" stroke-width="1.15"/>
<rect x="107.58" y="323.24" width="4.5" height="4.5" fill="#fff" stroke="#0a0a0a" stroke-width="1.15"/>
<rect x="111.98" y="318.68" width="4.5" height="4.5" fill="#fff" stroke="#0a0a0a" stroke-width="1.15"/>
<rect x="116.38" y="314.38" width="4.5" height="4.5" fill="#fff" stroke="#0a0a0a" stroke-width="1.15"/>
<rect x="120.78" y="309.91" width="4.5" height="4.5" fill="#fff" stroke="#0a0a0a" stroke-width="1.15"/>
<rect x="125.18" y="305.56" width="4.5" height="4.5" fill="#fff" stroke="#0a0a0a" stroke-width="1.15"/>
<rect x="129.59" y="301.17" width="4.5" height="4.5" fill="#fff" stroke="#0a0a0a" stroke-width="1.15"/>
<rect x="133.99" y="296" width="4.5" height="4.5" fill="#fff" stroke="#0a0a0a" stroke-width="1.15"/>
<rect x="138.39" y="291.82" width="4.5" height="4.5" fill="#fff" stroke="#0a0a0a" stroke-width="1.15"/>
<rect x="142.79" y="287.84" width="4.5" height="4.5" fill="#fff" stroke="#0a0a0a" stroke-width="1.15"/>
<rect x="147.19" y="282.23" width="4.5" height="4.5" fill="#fff" stroke="#0a0a0a" stroke-width="1.15"/>
<rect x="151.6" y="276.12" width="4.5" height="4.5" fill="#fff" stroke="#0a0a0a" stroke-width="1.15"/>
<rect x="156" y="270.54" width="4.5" height="4.5" fill="#fff" stroke="#0a0a0a" stroke-width="1.15"/>
<rect x="160.4" y="265.83" width="4.5" height="4.5" fill="#fff" stroke="#0a0a0a" stroke-width="1.15"/>
<rect x="164.8" y="262.28" width="4.5" height="4.5" fill="#fff" stroke="#0a0a0a" stroke-width="1.15"/>
<rect x="169.2" y="258.18" width="4.5" height="4.5" fill="#fff" stroke="#0a0a0a" stroke-width="1.15"/>
<rect x="173.61" y="254.1" width="4.5" height="4.5" fill="#fff" stroke="#0a0a0a" stroke-width="1.15"/>
<rect x="178.01" y="249.93" width="4.5" height="4.5" fill="#fff" stroke="#0a0a0a" stroke-width="1.15"/>
<rect x="182.41" y="246.55" width="4.5" height="4.5" fill="#fff" stroke="#0a0a0a" stroke-width="1.15"/>
<rect x="186.81" y="242.36" width="4.5" height="4.5" fill="#fff" stroke="#0a0a0a" stroke-width="1.15"/>
<rect x="191.21" y="238.58" width="4.5" height="4.5" fill="#fff" stroke="#0a0a0a" stroke-width="1.15"/>
<rect x="195.62" y="234.57" width="4.5" height="4.5" fill="#fff" stroke="#0a0a0a" stroke-width="1.15"/>
<rect x="200.02" y="230.93" width="4.5" height="4.5" fill="#fff" stroke="#0a0a0a" stroke-width="1.15"/>
<rect x="204.42" y="227.74" width="4.5" height="4.5" fill="#fff" stroke="#0a0a0a" stroke-width="1.15"/>
<rect x="208.82" y="224.74" width="4.5" height="4.5" fill="#fff" stroke="#0a0a0a" stroke-width="1.15"/>
<rect x="213.22" y="221.8" width="4.5" height="4.5" fill="#fff" stroke="#0a0a0a" stroke-width="1.15"/>
<rect x="217.63" y="219.76" width="4.5" height="4.5" fill="#fff" stroke="#0a0a0a" stroke-width="1.15"/>
<rect x="222.03" y="217.6" width="4.5" height="4.5" fill="#fff" stroke="#0a0a0a" stroke-width="1.15"/>
<rect x="226.43" y="215.59" width="4.5" height="4.5" fill="#fff" stroke="#0a0a0a" stroke-width="1.15"/>
<rect x="230.83" y="213.32" width="4.5" height="4.5" fill="#fff" stroke="#0a0a0a" stroke-width="1.15"/>
<rect x="235.23" y="211.63" width="4.5" height="4.5" fill="#fff" stroke="#0a0a0a" stroke-width="1.15"/>
<rect x="239.64" y="209.57" width="4.5" height="4.5" fill="#fff" stroke="#0a0a0a" stroke-width="1.15"/>
<rect x="244.04" y="208.14" width="4.5" height="4.5" fill="#fff" stroke="#0a0a0a" stroke-width="1.15"/>
<rect x="248.44" y="207.35" width="4.5" height="4.5" fill="#fff" stroke="#0a0a0a" stroke-width="1.15"/>
<rect x="252.84" y="206.07" width="4.5" height="4.5" fill="#fff" stroke="#0a0a0a" stroke-width="1.15"/>
<rect x="257.24" y="205.04" width="4.5" height="4.5" fill="#fff" stroke="#0a0a0a" stroke-width="1.15"/>
<rect x="261.65" y="203.4" width="4.5" height="4.5" fill="#fff" stroke="#0a0a0a" stroke-width="1.15"/>
<path d="M56.15 348.09L59.75 351.69L56.15 355.29L52.55 351.69Z" fill="#fdf0f1" stroke="#62291f" stroke-width="1.2"/>
<path d="M60.55 348.32L64.15 351.92L60.55 355.52L56.95 351.92Z" fill="#fdf0f1" stroke="#62291f" stroke-width="1.2"/>
<path d="M64.95 347.36L68.55 350.96L64.95 354.56L61.35 350.96Z" fill="#fdf0f1" stroke="#62291f" stroke-width="1.2"/>
<path d="M69.36 347.89L72.96 351.49L69.36 355.09L65.76 351.49Z" fill="#fdf0f1" stroke="#62291f" stroke-width="1.2"/>
<path d="M73.76 346.49L77.36 350.09L73.76 353.69L70.16 350.09Z" fill="#fdf0f1" stroke="#62291f" stroke-width="1.2"/>
<path d="M78.16 345.94L81.76 349.54L78.16 353.14L74.56 349.54Z" fill="#fdf0f1" stroke="#62291f" stroke-width="1.2"/>
<path d="M82.56 345.5L86.16 349.1L82.56 352.7L78.96 349.1Z" fill="#fdf0f1" stroke="#62291f" stroke-width="1.2"/>
<path d="M86.96 343.98L90.56 347.58L86.96 351.18L83.36 347.58Z" fill="#fdf0f1" stroke="#62291f" stroke-width="1.2"/>
<path d="M91.37 343.91L94.97 347.51L91.37 351.11L87.77 347.51Z" fill="#fdf0f1" stroke="#62291f" stroke-width="1.2"/>
<path d="M95.77 341.79L99.37 345.39L95.77 348.99L92.17 345.39Z" fill="#fdf0f1" stroke="#62291f" stroke-width="1.2"/>
<path d="M100.17 340.47L103.77 344.07L100.17 347.67L96.57 344.07Z" fill="#fdf0f1" stroke="#62291f" stroke-width="1.2"/>
<path d="M104.57 338.32L108.17 341.92L104.57 345.52L100.97 341.92Z" fill="#fdf0f1" stroke="#62291f" stroke-width="1.2"/>
<path d="M108.97 335.49L112.57 339.09L108.97 342.69L105.37 339.09Z" fill="#fdf0f1" stroke="#62291f" stroke-width="1.2"/>
<path d="M113.38 332.88L116.98 336.48L113.38 340.08L109.78 336.48Z" fill="#fdf0f1" stroke="#62291f" stroke-width="1.2"/>
<path d="M117.78 332.35L121.38 335.95L117.78 339.55L114.18 335.95Z" fill="#fdf0f1" stroke="#62291f" stroke-width="1.2"/>
<path d="M122.18 330.36L125.78 333.96L122.18 337.56L118.58 333.96Z" fill="#fdf0f1" stroke="#62291f" stroke-width="1.2"/>
<path d="M126.58 327.89L130.18 331.49L126.58 335.09L122.98 331.49Z" fill="#fdf0f1" stroke="#62291f" stroke-width="1.2"/>
<path d="M130.98 326.8L134.58 330.4L130.98 334L127.38 330.4Z" fill="#fdf0f1" stroke="#62291f" stroke-width="1.2"/>
<path d="M135.39 328.3L138.99 331.9L135.39 335.5L131.79 331.9Z" fill="#fdf0f1" stroke="#62291f" stroke-width="1.2"/>
<path d="M139.79 326.87L143.39 330.47L139.79 334.07L136.19 330.47Z" fill="#fdf0f1" stroke="#62291f" stroke-width="1.2"/>
<path d="M144.19 328.03L147.79 331.63L144.19 335.23L140.59 331.63Z" fill="#fdf0f1" stroke="#62291f" stroke-width="1.2"/>
<path d="M148.59 330.82L152.19 334.42L148.59 338.02L144.99 334.42Z" fill="#fdf0f1" stroke="#62291f" stroke-width="1.2"/>
<path d="M152.99 334.34L156.59 337.94L152.99 341.54L149.39 337.94Z" fill="#fdf0f1" stroke="#62291f" stroke-width="1.2"/>
<path d="M157.4 336.06L161 339.66L157.4 343.26L153.8 339.66Z" fill="#fdf0f1" stroke="#62291f" stroke-width="1.2"/>
<path d="M161.8 337.18L165.4 340.78L161.8 344.38L158.2 340.78Z" fill="#fdf0f1" stroke="#62291f" stroke-width="1.2"/>
<path d="M166.2 337.92L169.8 341.52L166.2 345.12L162.6 341.52Z" fill="#fdf0f1" stroke="#62291f" stroke-width="1.2"/>
<path d="M170.6 338L174.2 341.6L170.6 345.2L167 341.6Z" fill="#fdf0f1" stroke="#62291f" stroke-width="1.2"/>
<path d="M175 339.76L178.6 343.36L175 346.96L171.4 343.36Z" fill="#fdf0f1" stroke="#62291f" stroke-width="1.2"/>
<path d="M179.41 341.92L183.01 345.52L179.41 349.12L175.81 345.52Z" fill="#fdf0f1" stroke="#62291f" stroke-width="1.2"/>
<path d="M183.81 340.45L187.41 344.05L183.81 347.65L180.21 344.05Z" fill="#fdf0f1" stroke="#62291f" stroke-width="1.2"/>
<path d="M188.21 342.61L191.81 346.21L188.21 349.81L184.61 346.21Z" fill="#fdf0f1" stroke="#62291f" stroke-width="1.2"/>
<path d="M192.61 343.85L196.21 347.45L192.61 351.05L189.01 347.45Z" fill="#fdf0f1" stroke="#62291f" stroke-width="1.2"/>
<path d="M197.01 344.47L200.61 348.07L197.01 351.67L193.41 348.07Z" fill="#fdf0f1" stroke="#62291f" stroke-width="1.2"/>
<path d="M201.42 345.59L205.02 349.19L201.42 352.79L197.82 349.19Z" fill="#fdf0f1" stroke="#62291f" stroke-width="1.2"/>
<path d="M205.82 346.15L209.42 349.75L205.82 353.35L202.22 349.75Z" fill="#fdf0f1" stroke="#62291f" stroke-width="1.2"/>
<path d="M210.22 346.94L213.82 350.54L210.22 354.14L206.62 350.54Z" fill="#fdf0f1" stroke="#62291f" stroke-width="1.2"/>
<path d="M49.53 349.62L55.67 349.62L52.6 354.95Z" fill="#fff" stroke="#1e1a82" stroke-width="1.2"/>
<path d="M53.93 336.84L60.08 336.84L57 342.17Z" fill="#fff" stroke="#1e1a82" stroke-width="1.2"/>
<path d="M58.33 327.92L64.48 327.92L61.4 333.25Z" fill="#fff" stroke="#1e1a82" stroke-width="1.2"/>
<path d="M62.73 320.1L68.88 320.1L65.81 325.42Z" fill="#fff" stroke="#1e1a82" stroke-width="1.2"/>
<path d="M67.13 315.41L73.28 315.41L70.21 320.73Z" fill="#fff" stroke="#1e1a82" stroke-width="1.2"/>
<path d="M71.54 317.44L77.68 317.44L74.61 322.77Z" fill="#fff" stroke="#1e1a82" stroke-width="1.2"/>
<path d="M75.94 317.62L82.09 317.62L79.01 322.95Z" fill="#fff" stroke="#1e1a82" stroke-width="1.2"/>
<path d="M80.34 319.46L86.49 319.46L83.41 324.78Z" fill="#fff" stroke="#1e1a82" stroke-width="1.2"/>
<path d="M84.74 321.22L90.89 321.22L87.82 326.54Z" fill="#fff" stroke="#1e1a82" stroke-width="1.2"/>
<path d="M89.14 323.25L95.29 323.25L92.22 328.58Z" fill="#fff" stroke="#1e1a82" stroke-width="1.2"/>
<path d="M93.55 328.62L99.69 328.62L96.62 333.95Z" fill="#fff" stroke="#1e1a82" stroke-width="1.2"/>
<path d="M97.95 332.09L104.1 332.09L101.02 337.42Z" fill="#fff" stroke="#1e1a82" stroke-width="1.2"/>
<path d="M102.35 336.53L108.5 336.53L105.42 341.85Z" fill="#fff" stroke="#1e1a82" stroke-width="1.2"/>
<path d="M106.75 340.94L112.9 340.94L109.83 346.26Z" fill="#fff" stroke="#1e1a82" stroke-width="1.2"/>
<path d="M111.15 343.64L117.3 343.64L114.23 348.97Z" fill="#fff" stroke="#1e1a82" stroke-width="1.2"/>
<path d="M115.56 346.23L121.7 346.23L118.63 351.55Z" fill="#fff" stroke="#1e1a82" stroke-width="1.2"/>
<path d="M119.96 349.62L126.11 349.62L123.03 354.95Z" fill="#fff" stroke="#1e1a82" stroke-width="1.2"/>
<circle cx="55.3" cy="338.16" r="2.6" fill="#fff" stroke="#0a0a0a" stroke-width="1.3"/>
<circle cx="58.28" cy="344.12" r="2.6" fill="#fff" stroke="#0a0a0a" stroke-width="1.3"/>
<circle cx="61.26" cy="348.61" r="2.6" fill="#fff" stroke="#0a0a0a" stroke-width="1.3"/>
<circle cx="64.24" cy="350.78" r="2.6" fill="#fff" stroke="#0a0a0a" stroke-width="1.3"/>
<circle cx="39.82" cy="332.68" r="2.6" fill="#fff" stroke="#0a0a0a" stroke-width="1.3"/>
<circle cx="43.02" cy="332.68" r="2.6" fill="#fff" stroke="#0a0a0a" stroke-width="1.3"/>
<circle cx="46.21" cy="332.68" r="2.6" fill="#fff" stroke="#0a0a0a" stroke-width="1.3"/>
<circle cx="49.41" cy="332.68" r="2.6" fill="#fff" stroke="#0a0a0a" stroke-width="1.3"/>
<circle cx="52.6" cy="332.68" r="2.6" fill="#fff" stroke="#0a0a0a" stroke-width="1.3"/>
</g>
<rect x="38.4" y="196.5" width="227.2" height="158" fill="none" stroke="#111" stroke-width="1"/>
<line x1="37.6" y1="205.1" x2="265.6" y2="205.1" stroke="#333" stroke-width="1.1" stroke-dasharray="3.5 3.82"/>
<text x="155.5" y="203.8" font-size="5.45" text-anchor="middle" fill="#222" stroke="none">100% conversion</text>
<line x1="35.2" y1="351.4" x2="38.4" y2="351.4" stroke="#111" stroke-width="1"/>
<text x="32.8" y="354" font-size="7.9" font-weight="bold" text-anchor="end">0</text>
<line x1="35.2" y1="330.71" x2="38.4" y2="330.71" stroke="#111" stroke-width="1"/>
<text x="32.8" y="333.31" font-size="7.9" font-weight="bold" text-anchor="end">200</text>
<line x1="35.2" y1="310.03" x2="38.4" y2="310.03" stroke="#111" stroke-width="1"/>
<text x="32.8" y="312.63" font-size="7.9" font-weight="bold" text-anchor="end">400</text>
<line x1="35.2" y1="289.34" x2="38.4" y2="289.34" stroke="#111" stroke-width="1"/>
<text x="32.8" y="291.94" font-size="7.9" font-weight="bold" text-anchor="end">600</text>
<line x1="35.2" y1="268.66" x2="38.4" y2="268.66" stroke="#111" stroke-width="1"/>
<text x="32.8" y="271.26" font-size="7.9" font-weight="bold" text-anchor="end">800</text>
<line x1="35.2" y1="247.97" x2="38.4" y2="247.97" stroke="#111" stroke-width="1"/>
<text x="32.8" y="250.57" font-size="7.9" font-weight="bold" text-anchor="end">1000</text>
<line x1="35.2" y1="227.28" x2="38.4" y2="227.28" stroke="#111" stroke-width="1"/>
<text x="32.8" y="229.88" font-size="7.9" font-weight="bold" text-anchor="end">1200</text>
<line x1="35.2" y1="206.6" x2="38.4" y2="206.6" stroke="#111" stroke-width="1"/>
<text x="32.8" y="209.2" font-size="7.9" font-weight="bold" text-anchor="end">1400</text>
<line x1="36.4" y1="341.06" x2="38.4" y2="341.06" stroke="#111" stroke-width="1"/>
<line x1="36.4" y1="320.37" x2="38.4" y2="320.37" stroke="#111" stroke-width="1"/>
<line x1="36.4" y1="299.69" x2="38.4" y2="299.69" stroke="#111" stroke-width="1"/>
<line x1="36.4" y1="279" x2="38.4" y2="279" stroke="#111" stroke-width="1"/>
<line x1="36.4" y1="258.31" x2="38.4" y2="258.31" stroke="#111" stroke-width="1"/>
<line x1="36.4" y1="237.63" x2="38.4" y2="237.63" stroke="#111" stroke-width="1"/>
<line x1="36.4" y1="216.94" x2="38.4" y2="216.94" stroke="#111" stroke-width="1"/>
<line x1="52.6" y1="354.5" x2="52.6" y2="357.7" stroke="#111" stroke-width="1"/>
<text x="52.6" y="366.5" font-size="7.9" font-weight="bold" text-anchor="middle">0</text>
<line x1="123.6" y1="354.5" x2="123.6" y2="357.7" stroke="#111" stroke-width="1"/>
<text x="123.6" y="366.5" font-size="7.9" font-weight="bold" text-anchor="middle">50</text>
<line x1="194.6" y1="354.5" x2="194.6" y2="357.7" stroke="#111" stroke-width="1"/>
<text x="194.6" y="366.5" font-size="7.9" font-weight="bold" text-anchor="middle">100</text>
<line x1="265.6" y1="354.5" x2="265.6" y2="357.7" stroke="#111" stroke-width="1"/>
<text x="265.6" y="366.5" font-size="7.9" font-weight="bold" text-anchor="middle">150</text>
<line x1="88.1" y1="354.5" x2="88.1" y2="356.5" stroke="#111" stroke-width="1"/>
<line x1="159.1" y1="354.5" x2="159.1" y2="356.5" stroke="#111" stroke-width="1"/>
<line x1="230.1" y1="354.5" x2="230.1" y2="356.5" stroke="#111" stroke-width="1"/>
<text x="152.4" y="378.6" font-size="9.3" font-weight="bold" text-anchor="middle">Time, min</text>
<text transform="translate(9.9,282.1) rotate(-90)" font-size="9.7" font-weight="bold" text-anchor="middle">Concentration, ppm</text>
<text x="50.9" y="229.8" font-size="13" font-weight="bold">70-TC</text>
<rect x="200.2" y="256.8" width="6.4" height="6.4" fill="#fff" stroke="#0a0a0a" stroke-width="1.3"/>
<text x="213" y="263" font-size="11" font-weight="bold">CO<tspan font-size="6.8" dy="3.0">2</tspan></text>
<path d="M203.4 271.8L208 276.4L203.4 281L198.8 276.4Z" fill="#fdf0f1" stroke="#62291f" stroke-width="1.3"/>
<text x="216.4" y="279" font-size="11" font-weight="bold">HCOOH</text>
<path d="M199.07 288.2L207.73 288.2L203.4 295.7Z" fill="#fff" stroke="#1e1a82" stroke-width="1.35"/>
<text x="216.4" y="293.1" font-size="11" font-weight="bold">CH<tspan font-size="6.8" dy="3.0">3</tspan><tspan dy="-3.0">CHO</tspan></text>
<circle cx="203.4" cy="307" r="3.6" fill="#fff" stroke="#0a0a0a" stroke-width="1.3"/>
<text x="216.4" y="309.8" font-size="11" font-weight="bold">DES</text>
<clipPath id="cp3"><rect x="313.4" y="196.5" width="227.2" height="158"/></clipPath><g clip-path="url(#cp3)">
<rect x="325.35" y="349.15" width="4.5" height="4.5" fill="#fff" stroke="#0a0a0a" stroke-width="1.15"/>
<rect x="328.19" y="348.92" width="4.5" height="4.5" fill="#fff" stroke="#0a0a0a" stroke-width="1.15"/>
<rect x="331.03" y="348.69" width="4.5" height="4.5" fill="#fff" stroke="#0a0a0a" stroke-width="1.15"/>
<rect x="333.87" y="348.46" width="4.5" height="4.5" fill="#fff" stroke="#0a0a0a" stroke-width="1.15"/>
<rect x="336.71" y="348.23" width="4.5" height="4.5" fill="#fff" stroke="#0a0a0a" stroke-width="1.15"/>
<rect x="339.55" y="347.77" width="4.5" height="4.5" fill="#fff" stroke="#0a0a0a" stroke-width="1.15"/>
<rect x="342.39" y="347.08" width="4.5" height="4.5" fill="#fff" stroke="#0a0a0a" stroke-width="1.15"/>
<rect x="345.23" y="346.39" width="4.5" height="4.5" fill="#fff" stroke="#0a0a0a" stroke-width="1.15"/>
<rect x="348.07" y="345.7" width="4.5" height="4.5" fill="#fff" stroke="#0a0a0a" stroke-width="1.15"/>
<rect x="350.91" y="345" width="4.5" height="4.5" fill="#fff" stroke="#0a0a0a" stroke-width="1.15"/>
<rect x="353.75" y="344.3" width="4.5" height="4.5" fill="#fff" stroke="#0a0a0a" stroke-width="1.15"/>
<rect x="356.59" y="343.6" width="4.5" height="4.5" fill="#fff" stroke="#0a0a0a" stroke-width="1.15"/>
<rect x="359.43" y="343.01" width="4.5" height="4.5" fill="#fff" stroke="#0a0a0a" stroke-width="1.15"/>
<rect x="362.27" y="342.53" width="4.5" height="4.5" fill="#fff" stroke="#0a0a0a" stroke-width="1.15"/>
<rect x="365.11" y="342.05" width="4.5" height="4.5" fill="#fff" stroke="#0a0a0a" stroke-width="1.15"/>
<rect x="367.95" y="341.56" width="4.5" height="4.5" fill="#fff" stroke="#0a0a0a" stroke-width="1.15"/>
<rect x="370.79" y="340.92" width="4.5" height="4.5" fill="#fff" stroke="#0a0a0a" stroke-width="1.15"/>
<rect x="373.63" y="340.2" width="4.5" height="4.5" fill="#fff" stroke="#0a0a0a" stroke-width="1.15"/>
<rect x="376.47" y="339.47" width="4.5" height="4.5" fill="#fff" stroke="#0a0a0a" stroke-width="1.15"/>
<rect x="379.31" y="338.75" width="4.5" height="4.5" fill="#fff" stroke="#0a0a0a" stroke-width="1.15"/>
<rect x="382.15" y="337.5" width="4.5" height="4.5" fill="#fff" stroke="#0a0a0a" stroke-width="1.15"/>
<rect x="384.99" y="336.12" width="4.5" height="4.5" fill="#fff" stroke="#0a0a0a" stroke-width="1.15"/>
<rect x="387.83" y="332.2" width="4.5" height="4.5" fill="#fff" stroke="#0a0a0a" stroke-width="1.15"/>
<rect x="390.67" y="321.81" width="4.5" height="4.5" fill="#fff" stroke="#0a0a0a" stroke-width="1.15"/>
<rect x="393.51" y="314.01" width="4.5" height="4.5" fill="#fff" stroke="#0a0a0a" stroke-width="1.15"/>
<rect x="396.35" y="306.44" width="4.5" height="4.5" fill="#fff" stroke="#0a0a0a" stroke-width="1.15"/>
<rect x="399.19" y="300.51" width="4.5" height="4.5" fill="#fff" stroke="#0a0a0a" stroke-width="1.15"/>
<rect x="402.03" y="292.32" width="4.5" height="4.5" fill="#fff" stroke="#0a0a0a" stroke-width="1.15"/>
<rect x="404.87" y="285.07" width="4.5" height="4.5" fill="#fff" stroke="#0a0a0a" stroke-width="1.15"/>
<rect x="407.71" y="278.27" width="4.5" height="4.5" fill="#fff" stroke="#0a0a0a" stroke-width="1.15"/>
<rect x="410.55" y="271.39" width="4.5" height="4.5" fill="#fff" stroke="#0a0a0a" stroke-width="1.15"/>
<rect x="413.39" y="265.27" width="4.5" height="4.5" fill="#fff" stroke="#0a0a0a" stroke-width="1.15"/>
<rect x="416.23" y="259.11" width="4.5" height="4.5" fill="#fff" stroke="#0a0a0a" stroke-width="1.15"/>
<rect x="419.07" y="253.18" width="4.5" height="4.5" fill="#fff" stroke="#0a0a0a" stroke-width="1.15"/>
<rect x="421.91" y="247.18" width="4.5" height="4.5" fill="#fff" stroke="#0a0a0a" stroke-width="1.15"/>
<rect x="424.75" y="241.66" width="4.5" height="4.5" fill="#fff" stroke="#0a0a0a" stroke-width="1.15"/>
<rect x="427.59" y="235.31" width="4.5" height="4.5" fill="#fff" stroke="#0a0a0a" stroke-width="1.15"/>
<rect x="430.43" y="231.43" width="4.5" height="4.5" fill="#fff" stroke="#0a0a0a" stroke-width="1.15"/>
<rect x="433.27" y="227.67" width="4.5" height="4.5" fill="#fff" stroke="#0a0a0a" stroke-width="1.15"/>
<rect x="436.11" y="224.42" width="4.5" height="4.5" fill="#fff" stroke="#0a0a0a" stroke-width="1.15"/>
<rect x="438.95" y="221.26" width="4.5" height="4.5" fill="#fff" stroke="#0a0a0a" stroke-width="1.15"/>
<rect x="441.79" y="218.93" width="4.5" height="4.5" fill="#fff" stroke="#0a0a0a" stroke-width="1.15"/>
<rect x="444.63" y="216.69" width="4.5" height="4.5" fill="#fff" stroke="#0a0a0a" stroke-width="1.15"/>
<rect x="447.47" y="215.2" width="4.5" height="4.5" fill="#fff" stroke="#0a0a0a" stroke-width="1.15"/>
<rect x="450.31" y="213.73" width="4.5" height="4.5" fill="#fff" stroke="#0a0a0a" stroke-width="1.15"/>
<rect x="453.15" y="212.43" width="4.5" height="4.5" fill="#fff" stroke="#0a0a0a" stroke-width="1.15"/>
<rect x="455.99" y="211.21" width="4.5" height="4.5" fill="#fff" stroke="#0a0a0a" stroke-width="1.15"/>
<rect x="458.83" y="210.36" width="4.5" height="4.5" fill="#fff" stroke="#0a0a0a" stroke-width="1.15"/>
<rect x="461.67" y="209.58" width="4.5" height="4.5" fill="#fff" stroke="#0a0a0a" stroke-width="1.15"/>
<rect x="464.51" y="208.98" width="4.5" height="4.5" fill="#fff" stroke="#0a0a0a" stroke-width="1.15"/>
<rect x="467.35" y="208.44" width="4.5" height="4.5" fill="#fff" stroke="#0a0a0a" stroke-width="1.15"/>
<rect x="470.19" y="208.02" width="4.5" height="4.5" fill="#fff" stroke="#0a0a0a" stroke-width="1.15"/>
<rect x="473.03" y="207.6" width="4.5" height="4.5" fill="#fff" stroke="#0a0a0a" stroke-width="1.15"/>
<rect x="475.87" y="207.2" width="4.5" height="4.5" fill="#fff" stroke="#0a0a0a" stroke-width="1.15"/>
<rect x="478.71" y="206.84" width="4.5" height="4.5" fill="#fff" stroke="#0a0a0a" stroke-width="1.15"/>
<rect x="481.55" y="206.57" width="4.5" height="4.5" fill="#fff" stroke="#0a0a0a" stroke-width="1.15"/>
<rect x="484.39" y="206.3" width="4.5" height="4.5" fill="#fff" stroke="#0a0a0a" stroke-width="1.15"/>
<rect x="487.23" y="206.03" width="4.5" height="4.5" fill="#fff" stroke="#0a0a0a" stroke-width="1.15"/>
<rect x="490.07" y="205.82" width="4.5" height="4.5" fill="#fff" stroke="#0a0a0a" stroke-width="1.15"/>
<rect x="492.91" y="205.65" width="4.5" height="4.5" fill="#fff" stroke="#0a0a0a" stroke-width="1.15"/>
<rect x="495.75" y="205.49" width="4.5" height="4.5" fill="#fff" stroke="#0a0a0a" stroke-width="1.15"/>
<rect x="498.59" y="205.32" width="4.5" height="4.5" fill="#fff" stroke="#0a0a0a" stroke-width="1.15"/>
<rect x="501.43" y="205.15" width="4.5" height="4.5" fill="#fff" stroke="#0a0a0a" stroke-width="1.15"/>
<rect x="504.27" y="205.01" width="4.5" height="4.5" fill="#fff" stroke="#0a0a0a" stroke-width="1.15"/>
<rect x="507.11" y="204.89" width="4.5" height="4.5" fill="#fff" stroke="#0a0a0a" stroke-width="1.15"/>
<rect x="509.95" y="204.76" width="4.5" height="4.5" fill="#fff" stroke="#0a0a0a" stroke-width="1.15"/>
<rect x="512.79" y="204.64" width="4.5" height="4.5" fill="#fff" stroke="#0a0a0a" stroke-width="1.15"/>
<rect x="515.63" y="204.51" width="4.5" height="4.5" fill="#fff" stroke="#0a0a0a" stroke-width="1.15"/>
<rect x="518.47" y="204.4" width="4.5" height="4.5" fill="#fff" stroke="#0a0a0a" stroke-width="1.15"/>
<rect x="521.31" y="204.31" width="4.5" height="4.5" fill="#fff" stroke="#0a0a0a" stroke-width="1.15"/>
<rect x="524.15" y="204.21" width="4.5" height="4.5" fill="#fff" stroke="#0a0a0a" stroke-width="1.15"/>
<rect x="526.99" y="204.11" width="4.5" height="4.5" fill="#fff" stroke="#0a0a0a" stroke-width="1.15"/>
<rect x="529.83" y="204.02" width="4.5" height="4.5" fill="#fff" stroke="#0a0a0a" stroke-width="1.15"/>
<rect x="532.67" y="203.92" width="4.5" height="4.5" fill="#fff" stroke="#0a0a0a" stroke-width="1.15"/>
<rect x="535.51" y="203.82" width="4.5" height="4.5" fill="#fff" stroke="#0a0a0a" stroke-width="1.15"/>
<rect x="538.35" y="203.73" width="4.5" height="4.5" fill="#fff" stroke="#0a0a0a" stroke-width="1.15"/>
<path d="M334.7 347.8L338.3 351.4L334.7 355L331.1 351.4Z" fill="#fdf0f1" stroke="#62291f" stroke-width="1.2"/>
<path d="M339.1 347.43L342.7 351.03L339.1 354.63L335.5 351.03Z" fill="#fdf0f1" stroke="#62291f" stroke-width="1.2"/>
<path d="M343.5 346.71L347.1 350.31L343.5 353.91L339.9 350.31Z" fill="#fdf0f1" stroke="#62291f" stroke-width="1.2"/>
<path d="M347.91 345.81L351.51 349.41L347.91 353.01L344.31 349.41Z" fill="#fdf0f1" stroke="#62291f" stroke-width="1.2"/>
<path d="M352.31 344.88L355.91 348.48L352.31 352.08L348.71 348.48Z" fill="#fdf0f1" stroke="#62291f" stroke-width="1.2"/>
<path d="M356.71 343.95L360.31 347.55L356.71 351.15L353.11 347.55Z" fill="#fdf0f1" stroke="#62291f" stroke-width="1.2"/>
<path d="M361.11 343.37L364.71 346.97L361.11 350.57L357.51 346.97Z" fill="#fdf0f1" stroke="#62291f" stroke-width="1.2"/>
<path d="M365.51 343.07L369.11 346.67L365.51 350.27L361.91 346.67Z" fill="#fdf0f1" stroke="#62291f" stroke-width="1.2"/>
<path d="M369.92 342.43L373.52 346.03L369.92 349.63L366.32 346.03Z" fill="#fdf0f1" stroke="#62291f" stroke-width="1.2"/>
<path d="M374.32 341.51L377.92 345.11L374.32 348.71L370.72 345.11Z" fill="#fdf0f1" stroke="#62291f" stroke-width="1.2"/>
<path d="M378.72 340.44L382.32 344.04L378.72 347.64L375.12 344.04Z" fill="#fdf0f1" stroke="#62291f" stroke-width="1.2"/>
<path d="M383.12 339.23L386.72 342.83L383.12 346.43L379.52 342.83Z" fill="#fdf0f1" stroke="#62291f" stroke-width="1.2"/>
<path d="M387.52 337.31L391.12 340.91L387.52 344.51L383.92 340.91Z" fill="#fdf0f1" stroke="#62291f" stroke-width="1.2"/>
<path d="M391.93 326.64L395.53 330.24L391.93 333.84L388.33 330.24Z" fill="#fdf0f1" stroke="#62291f" stroke-width="1.2"/>
<path d="M396.33 315.55L399.93 319.15L396.33 322.75L392.73 319.15Z" fill="#fdf0f1" stroke="#62291f" stroke-width="1.2"/>
<path d="M400.73 312.03L404.33 315.63L400.73 319.23L397.13 315.63Z" fill="#fdf0f1" stroke="#62291f" stroke-width="1.2"/>
<path d="M405.13 315.31L408.73 318.91L405.13 322.51L401.53 318.91Z" fill="#fdf0f1" stroke="#62291f" stroke-width="1.2"/>
<path d="M409.53 318.77L413.13 322.37L409.53 325.97L405.93 322.37Z" fill="#fdf0f1" stroke="#62291f" stroke-width="1.2"/>
<path d="M413.94 323.78L417.54 327.38L413.94 330.98L410.34 327.38Z" fill="#fdf0f1" stroke="#62291f" stroke-width="1.2"/>
<path d="M418.34 329.03L421.94 332.63L418.34 336.23L414.74 332.63Z" fill="#fdf0f1" stroke="#62291f" stroke-width="1.2"/>
<path d="M422.74 333.51L426.34 337.11L422.74 340.71L419.14 337.11Z" fill="#fdf0f1" stroke="#62291f" stroke-width="1.2"/>
<path d="M427.14 336.43L430.74 340.03L427.14 343.63L423.54 340.03Z" fill="#fdf0f1" stroke="#62291f" stroke-width="1.2"/>
<path d="M431.54 339.42L435.14 343.02L431.54 346.62L427.94 343.02Z" fill="#fdf0f1" stroke="#62291f" stroke-width="1.2"/>
<path d="M435.95 341.59L439.55 345.19L435.95 348.79L432.35 345.19Z" fill="#fdf0f1" stroke="#62291f" stroke-width="1.2"/>
<path d="M440.35 343.04L443.95 346.64L440.35 350.24L436.75 346.64Z" fill="#fdf0f1" stroke="#62291f" stroke-width="1.2"/>
<path d="M444.75 343.77L448.35 347.37L444.75 350.97L441.15 347.37Z" fill="#fdf0f1" stroke="#62291f" stroke-width="1.2"/>
<path d="M449.15 345.21L452.75 348.81L449.15 352.41L445.55 348.81Z" fill="#fdf0f1" stroke="#62291f" stroke-width="1.2"/>
<path d="M453.55 345.21L457.15 348.81L453.55 352.41L449.95 348.81Z" fill="#fdf0f1" stroke="#62291f" stroke-width="1.2"/>
<path d="M324.53 349.72L330.67 349.72L327.6 355.05Z" fill="#fff" stroke="#1e1a82" stroke-width="1.2"/>
<path d="M327.37 341.17L333.51 341.17L330.44 346.49Z" fill="#fff" stroke="#1e1a82" stroke-width="1.2"/>
<path d="M330.21 335.3L336.35 335.3L333.28 340.63Z" fill="#fff" stroke="#1e1a82" stroke-width="1.2"/>
<path d="M333.05 332.27L339.19 332.27L336.12 337.59Z" fill="#fff" stroke="#1e1a82" stroke-width="1.2"/>
<path d="M335.89 328.61L342.03 328.61L338.96 333.94Z" fill="#fff" stroke="#1e1a82" stroke-width="1.2"/>
<path d="M338.73 326.38L344.87 326.38L341.8 331.7Z" fill="#fff" stroke="#1e1a82" stroke-width="1.2"/>
<path d="M341.57 326.83L347.71 326.83L344.64 332.16Z" fill="#fff" stroke="#1e1a82" stroke-width="1.2"/>
<path d="M344.41 325.49L350.55 325.49L347.48 330.82Z" fill="#fff" stroke="#1e1a82" stroke-width="1.2"/>
<path d="M347.25 323.5L353.39 323.5L350.32 328.82Z" fill="#fff" stroke="#1e1a82" stroke-width="1.2"/>
<path d="M350.09 324.15L356.23 324.15L353.16 329.48Z" fill="#fff" stroke="#1e1a82" stroke-width="1.2"/>
<path d="M352.93 319.32L359.07 319.32L356 324.64Z" fill="#fff" stroke="#1e1a82" stroke-width="1.2"/>
<path d="M355.77 317.84L361.91 317.84L358.84 323.17Z" fill="#fff" stroke="#1e1a82" stroke-width="1.2"/>
<path d="M358.61 318.93L364.75 318.93L361.68 324.25Z" fill="#fff" stroke="#1e1a82" stroke-width="1.2"/>
<path d="M361.45 316.78L367.59 316.78L364.52 322.11Z" fill="#fff" stroke="#1e1a82" stroke-width="1.2"/>
<path d="M364.29 317.42L370.43 317.42L367.36 322.75Z" fill="#fff" stroke="#1e1a82" stroke-width="1.2"/>
<path d="M367.13 318.97L373.27 318.97L370.2 324.3Z" fill="#fff" stroke="#1e1a82" stroke-width="1.2"/>
<path d="M369.97 316.51L376.11 316.51L373.04 321.84Z" fill="#fff" stroke="#1e1a82" stroke-width="1.2"/>
<path d="M372.81 316.39L378.95 316.39L375.88 321.72Z" fill="#fff" stroke="#1e1a82" stroke-width="1.2"/>
<path d="M375.65 316.98L381.79 316.98L378.72 322.3Z" fill="#fff" stroke="#1e1a82" stroke-width="1.2"/>
<path d="M378.49 316.48L384.63 316.48L381.56 321.8Z" fill="#fff" stroke="#1e1a82" stroke-width="1.2"/>
<path d="M381.33 321.92L387.47 321.92L384.4 327.25Z" fill="#fff" stroke="#1e1a82" stroke-width="1.2"/>
<path d="M384.17 329.2L390.31 329.2L387.24 334.52Z" fill="#fff" stroke="#1e1a82" stroke-width="1.2"/>
<path d="M387.01 332.63L393.15 332.63L390.08 337.96Z" fill="#fff" stroke="#1e1a82" stroke-width="1.2"/>
<path d="M389.85 337.03L395.99 337.03L392.92 342.35Z" fill="#fff" stroke="#1e1a82" stroke-width="1.2"/>
<path d="M392.69 341.78L398.83 341.78L395.76 347.1Z" fill="#fff" stroke="#1e1a82" stroke-width="1.2"/>
<path d="M395.53 346.92L401.67 346.92L398.6 352.25Z" fill="#fff" stroke="#1e1a82" stroke-width="1.2"/>
<circle cx="330.3" cy="333.61" r="2.6" fill="#fff" stroke="#0a0a0a" stroke-width="1.3"/>
<circle cx="333.14" cy="339.03" r="2.6" fill="#fff" stroke="#0a0a0a" stroke-width="1.3"/>
<circle cx="335.98" cy="342.23" r="2.6" fill="#fff" stroke="#0a0a0a" stroke-width="1.3"/>
<circle cx="338.82" cy="344.24" r="2.6" fill="#fff" stroke="#0a0a0a" stroke-width="1.3"/>
<circle cx="341.66" cy="345.86" r="2.6" fill="#fff" stroke="#0a0a0a" stroke-width="1.3"/>
<circle cx="344.5" cy="346.87" r="2.6" fill="#fff" stroke="#0a0a0a" stroke-width="1.3"/>
<circle cx="347.34" cy="347.41" r="2.6" fill="#fff" stroke="#0a0a0a" stroke-width="1.3"/>
<circle cx="350.18" cy="347.99" r="2.6" fill="#fff" stroke="#0a0a0a" stroke-width="1.3"/>
<circle cx="353.02" cy="348.52" r="2.6" fill="#fff" stroke="#0a0a0a" stroke-width="1.3"/>
<circle cx="355.86" cy="349.17" r="2.6" fill="#fff" stroke="#0a0a0a" stroke-width="1.3"/>
<circle cx="358.7" cy="350.61" r="2.6" fill="#fff" stroke="#0a0a0a" stroke-width="1.3"/>
<circle cx="361.54" cy="351.25" r="2.6" fill="#fff" stroke="#0a0a0a" stroke-width="1.3"/>
<circle cx="313.97" cy="325.54" r="2.6" fill="#fff" stroke="#0a0a0a" stroke-width="1.3"/>
<circle cx="317.09" cy="325.54" r="2.6" fill="#fff" stroke="#0a0a0a" stroke-width="1.3"/>
<circle cx="320.22" cy="325.54" r="2.6" fill="#fff" stroke="#0a0a0a" stroke-width="1.3"/>
<circle cx="323.34" cy="325.54" r="2.6" fill="#fff" stroke="#0a0a0a" stroke-width="1.3"/>
<circle cx="326.46" cy="325.54" r="2.6" fill="#fff" stroke="#0a0a0a" stroke-width="1.3"/>
</g>
<rect x="313.4" y="196.5" width="227.2" height="158" fill="none" stroke="#111" stroke-width="1"/>
<line x1="312.6" y1="205.1" x2="540.6" y2="205.1" stroke="#333" stroke-width="1.1" stroke-dasharray="3.5 3.82"/>
<text x="427.8" y="203.8" font-size="5.45" text-anchor="middle" fill="#222" stroke="none">100% conversion</text>
<line x1="310.2" y1="351.4" x2="313.4" y2="351.4" stroke="#111" stroke-width="1"/>
<text x="307.8" y="354" font-size="7.9" font-weight="bold" text-anchor="end">0</text>
<line x1="310.2" y1="330.71" x2="313.4" y2="330.71" stroke="#111" stroke-width="1"/>
<text x="307.8" y="333.31" font-size="7.9" font-weight="bold" text-anchor="end">200</text>
<line x1="310.2" y1="310.03" x2="313.4" y2="310.03" stroke="#111" stroke-width="1"/>
<text x="307.8" y="312.63" font-size="7.9" font-weight="bold" text-anchor="end">400</text>
<line x1="310.2" y1="289.34" x2="313.4" y2="289.34" stroke="#111" stroke-width="1"/>
<text x="307.8" y="291.94" font-size="7.9" font-weight="bold" text-anchor="end">600</text>
<line x1="310.2" y1="268.66" x2="313.4" y2="268.66" stroke="#111" stroke-width="1"/>
<text x="307.8" y="271.26" font-size="7.9" font-weight="bold" text-anchor="end">800</text>
<line x1="310.2" y1="247.97" x2="313.4" y2="247.97" stroke="#111" stroke-width="1"/>
<text x="307.8" y="250.57" font-size="7.9" font-weight="bold" text-anchor="end">1000</text>
<line x1="310.2" y1="227.28" x2="313.4" y2="227.28" stroke="#111" stroke-width="1"/>
<text x="307.8" y="229.88" font-size="7.9" font-weight="bold" text-anchor="end">1200</text>
<line x1="310.2" y1="206.6" x2="313.4" y2="206.6" stroke="#111" stroke-width="1"/>
<text x="307.8" y="209.2" font-size="7.9" font-weight="bold" text-anchor="end">1400</text>
<line x1="311.4" y1="341.06" x2="313.4" y2="341.06" stroke="#111" stroke-width="1"/>
<line x1="311.4" y1="320.37" x2="313.4" y2="320.37" stroke="#111" stroke-width="1"/>
<line x1="311.4" y1="299.69" x2="313.4" y2="299.69" stroke="#111" stroke-width="1"/>
<line x1="311.4" y1="279" x2="313.4" y2="279" stroke="#111" stroke-width="1"/>
<line x1="311.4" y1="258.31" x2="313.4" y2="258.31" stroke="#111" stroke-width="1"/>
<line x1="311.4" y1="237.63" x2="313.4" y2="237.63" stroke="#111" stroke-width="1"/>
<line x1="311.4" y1="216.94" x2="313.4" y2="216.94" stroke="#111" stroke-width="1"/>
<line x1="327.6" y1="354.5" x2="327.6" y2="357.7" stroke="#111" stroke-width="1"/>
<text x="327.6" y="366.5" font-size="7.9" font-weight="bold" text-anchor="middle">0</text>
<line x1="398.6" y1="354.5" x2="398.6" y2="357.7" stroke="#111" stroke-width="1"/>
<text x="398.6" y="366.5" font-size="7.9" font-weight="bold" text-anchor="middle">50</text>
<line x1="469.6" y1="354.5" x2="469.6" y2="357.7" stroke="#111" stroke-width="1"/>
<text x="469.6" y="366.5" font-size="7.9" font-weight="bold" text-anchor="middle">100</text>
<line x1="540.6" y1="354.5" x2="540.6" y2="357.7" stroke="#111" stroke-width="1"/>
<text x="540.6" y="366.5" font-size="7.9" font-weight="bold" text-anchor="middle">150</text>
<line x1="363.1" y1="354.5" x2="363.1" y2="356.5" stroke="#111" stroke-width="1"/>
<line x1="434.1" y1="354.5" x2="434.1" y2="356.5" stroke="#111" stroke-width="1"/>
<line x1="505.1" y1="354.5" x2="505.1" y2="356.5" stroke="#111" stroke-width="1"/>
<text x="427.4" y="374.7" font-size="9.3" font-weight="bold" text-anchor="middle">Time, min</text>
<text transform="translate(285.9,282.5) rotate(-90)" font-size="9.7" font-weight="bold" text-anchor="middle">Concentration, ppm</text>
<text x="324.7" y="228.2" font-size="13" font-weight="bold">40-TS</text>
<rect x="475.2" y="256.8" width="6.4" height="6.4" fill="#fff" stroke="#0a0a0a" stroke-width="1.3"/>
<text x="488" y="263" font-size="11" font-weight="bold">CO<tspan font-size="6.8" dy="3.0">2</tspan></text>
<path d="M478.4 271.8L483 276.4L478.4 281L473.8 276.4Z" fill="#fdf0f1" stroke="#62291f" stroke-width="1.3"/>
<text x="491.4" y="279" font-size="11" font-weight="bold">HCOOH</text>
<path d="M474.07 288.2L482.73 288.2L478.4 295.7Z" fill="#fff" stroke="#1e1a82" stroke-width="1.35"/>
<text x="491.4" y="293.1" font-size="11" font-weight="bold">CH<tspan font-size="6.8" dy="3.0">3</tspan><tspan dy="-3.0">CHO</tspan></text>
<circle cx="478.4" cy="307" r="3.6" fill="#fff" stroke="#0a0a0a" stroke-width="1.3"/>
<text x="491.4" y="309.8" font-size="11" font-weight="bold">DES</text>
</svg>
</body></html>
